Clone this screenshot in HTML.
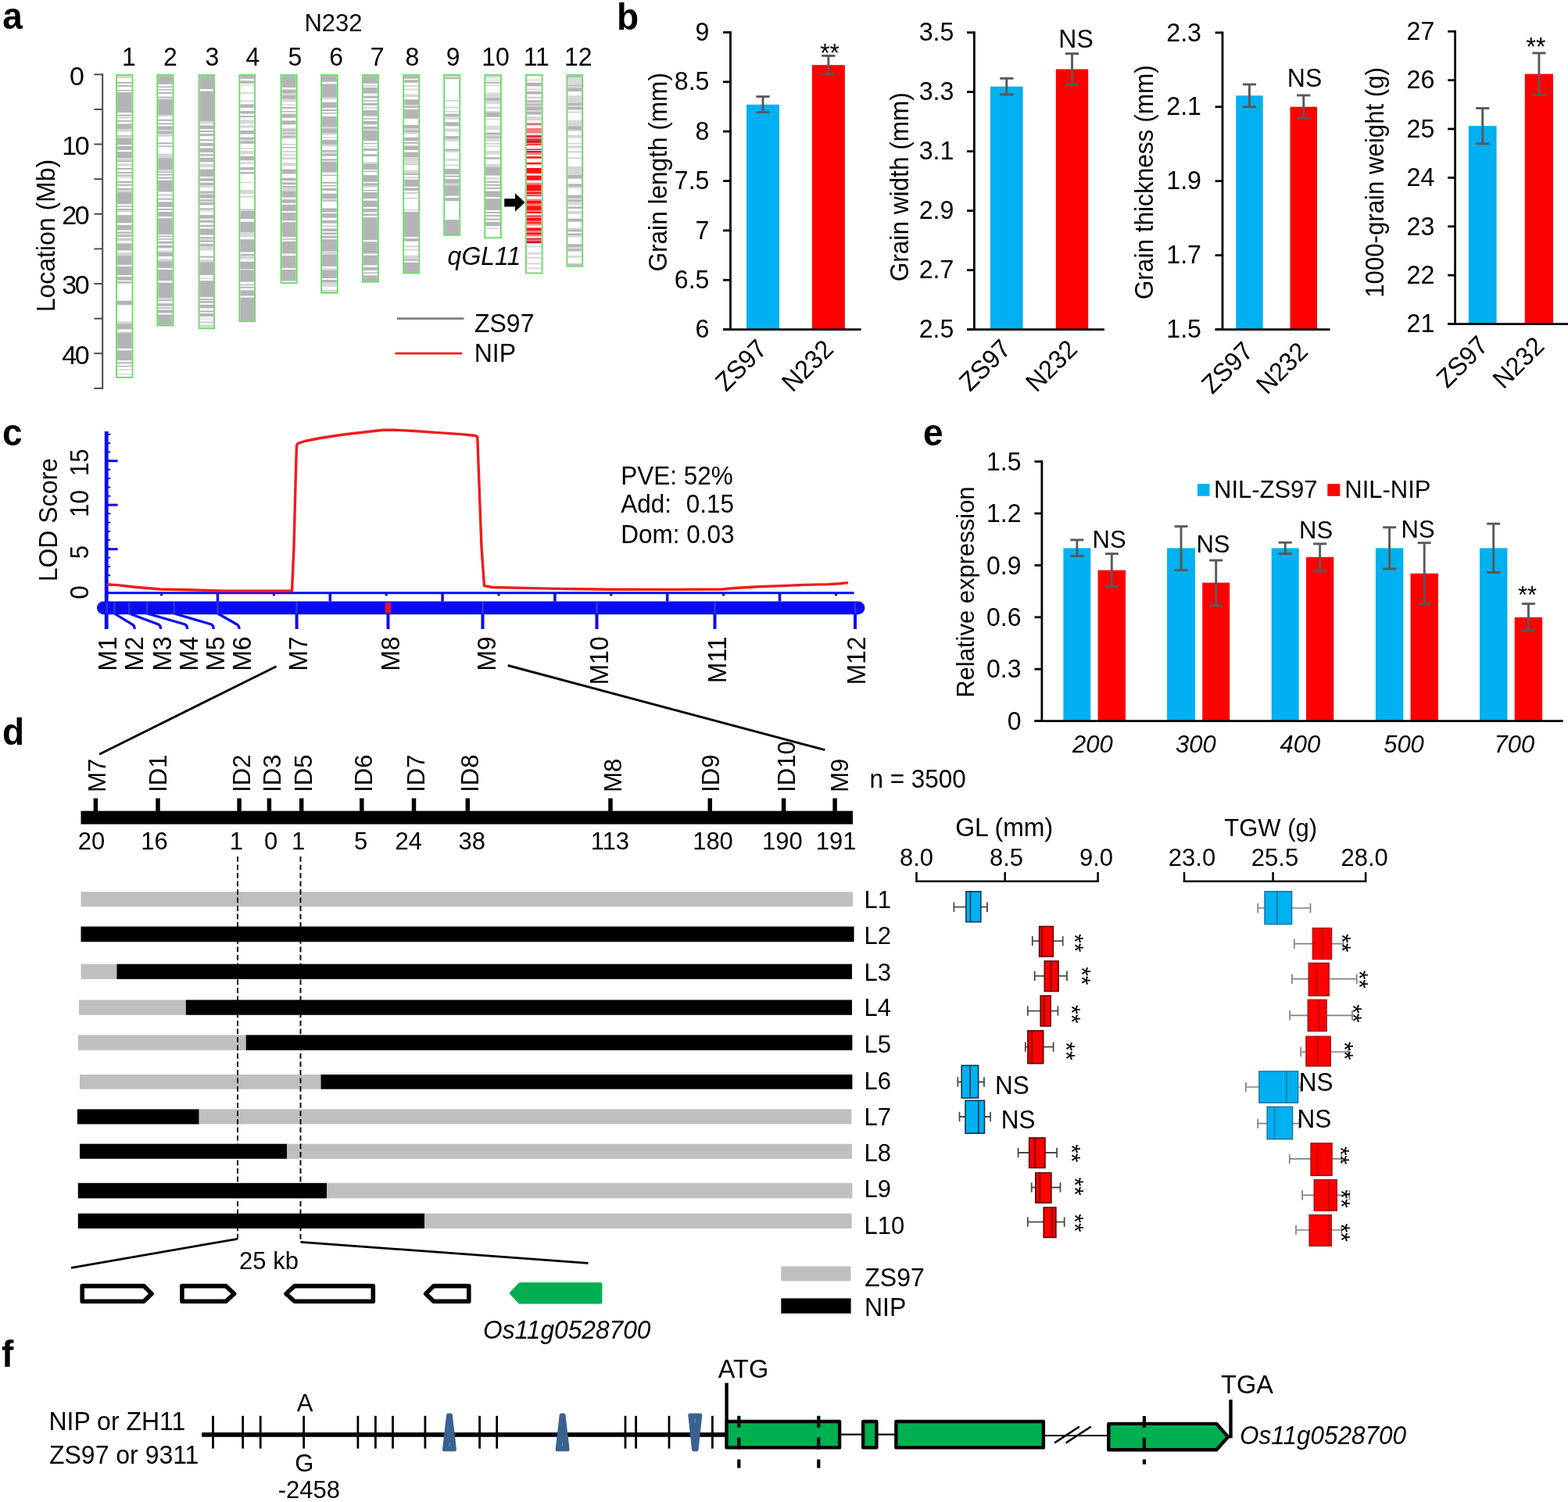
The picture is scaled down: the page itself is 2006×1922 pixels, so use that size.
<!DOCTYPE html>
<html lang="en">
<head>
<meta charset="utf-8">
<title>qGL11 figure</title>
<style>
html,body{margin:0;padding:0;background:#fff;}
body{width:2006px;height:1922px;overflow:hidden;}
svg{display:block;font-family:"Liberation Sans",sans-serif;}
</style>
</head>
<body>
<svg width="2006" height="1922" viewBox="0 0 2006 1922" role="img" aria-label="Fine mapping of qGL11">
<rect x="0" y="0" width="2006" height="1922" fill="#fff"/>
<g id="panel-a">
<text transform="translate(3.3 36.7) scale(1 1.03)" font-size="46" font-weight="bold">a</text>
<text transform="translate(426.5 39.6) scale(1 1.04)" font-size="31" text-anchor="middle">N232</text>
<line x1="131.2" y1="94.3" x2="131.2" y2="497.92500000000007" stroke="#4a4a4a" stroke-width="2"/>
<line x1="120.4" y1="95.3" x2="131.2" y2="95.3" stroke="#4a4a4a" stroke-width="2"/>
<line x1="120.4" y1="139.925" x2="131.2" y2="139.925" stroke="#4a4a4a" stroke-width="2"/>
<line x1="120.4" y1="184.55" x2="131.2" y2="184.55" stroke="#4a4a4a" stroke-width="2"/>
<line x1="120.4" y1="229.175" x2="131.2" y2="229.175" stroke="#4a4a4a" stroke-width="2"/>
<line x1="120.4" y1="273.8" x2="131.2" y2="273.8" stroke="#4a4a4a" stroke-width="2"/>
<line x1="120.4" y1="318.425" x2="131.2" y2="318.425" stroke="#4a4a4a" stroke-width="2"/>
<line x1="120.4" y1="363.05" x2="131.2" y2="363.05" stroke="#4a4a4a" stroke-width="2"/>
<line x1="120.4" y1="407.675" x2="131.2" y2="407.675" stroke="#4a4a4a" stroke-width="2"/>
<line x1="120.4" y1="452.3" x2="131.2" y2="452.3" stroke="#4a4a4a" stroke-width="2"/>
<line x1="120.4" y1="496.92500000000007" x2="131.2" y2="496.92500000000007" stroke="#4a4a4a" stroke-width="2"/>
<text transform="translate(107.9 108.7) scale(1 1)" font-size="34" text-anchor="end">0</text>
<text transform="translate(112.2 197.95000000000002) scale(1 1)" font-size="34" text-anchor="end" letter-spacing="-2.4">10</text>
<text transform="translate(112.2 287.2) scale(1 1)" font-size="34" text-anchor="end" letter-spacing="-2.4">20</text>
<text transform="translate(112.2 376.45) scale(1 1)" font-size="34" text-anchor="end" letter-spacing="-2.4">30</text>
<text transform="translate(112.2 465.7) scale(1 1)" font-size="34" text-anchor="end" letter-spacing="-2.4">40</text>
<text transform="translate(69.5 301.6) rotate(-90) scale(1 1.04)" font-size="32" text-anchor="middle">Location (Mb)</text>
<text transform="translate(165 84.4) scale(1 1.04)" font-size="32" text-anchor="middle">1</text>
<g>
<rect x="149.9" y="97.14" width="18.6" height="3.06" fill="#d6d6d8"/>
<rect x="149.9" y="104.80" width="18.6" height="2.04" fill="#b4b4b6"/>
<rect x="149.9" y="108.88" width="18.6" height="2.04" fill="#b4b4b6"/>
<rect x="149.9" y="115.00" width="18.6" height="1.53" fill="#b4b4b6"/>
<rect x="149.9" y="118.06" width="18.6" height="26.02" fill="#b4b4b6"/>
<rect x="149.9" y="146.63" width="18.6" height="2.04" fill="#b4b4b6"/>
<rect x="149.9" y="150.20" width="18.6" height="1.02" fill="#b4b4b6"/>
<rect x="149.9" y="153.78" width="18.6" height="2.04" fill="#b4b4b6"/>
<rect x="149.9" y="158.37" width="18.6" height="7.14" fill="#b4b4b6"/>
<rect x="149.9" y="165.51" width="18.6" height="3.06" fill="#d6d6d8"/>
<rect x="149.9" y="173.16" width="18.6" height="1.53" fill="#b4b4b6"/>
<rect x="149.9" y="174.69" width="18.6" height="2.04" fill="#d6d6d8"/>
<rect x="149.9" y="176.73" width="18.6" height="8.67" fill="#b4b4b6"/>
<rect x="149.9" y="186.94" width="18.6" height="5.10" fill="#b4b4b6"/>
<rect x="149.9" y="194.08" width="18.6" height="8.16" fill="#b4b4b6"/>
<rect x="149.9" y="202.24" width="18.6" height="3.06" fill="#d6d6d8"/>
<rect x="149.9" y="205.31" width="18.6" height="2.04" fill="#b4b4b6"/>
<rect x="149.9" y="209.39" width="18.6" height="3.06" fill="#d6d6d8"/>
<rect x="149.9" y="215.00" width="18.6" height="2.04" fill="#b4b4b6"/>
<rect x="149.9" y="220.00" width="18.6" height="2.04" fill="#b4b4b6"/>
<rect x="149.9" y="223.57" width="18.6" height="1.53" fill="#b4b4b6"/>
<rect x="149.9" y="225.10" width="18.6" height="2.55" fill="#d6d6d8"/>
<rect x="149.9" y="231.73" width="18.6" height="2.55" fill="#b4b4b6"/>
<rect x="149.9" y="235.82" width="18.6" height="2.04" fill="#b4b4b6"/>
<rect x="149.9" y="240.92" width="18.6" height="2.04" fill="#b4b4b6"/>
<rect x="149.9" y="242.96" width="18.6" height="3.06" fill="#d6d6d8"/>
<rect x="149.9" y="246.02" width="18.6" height="15.31" fill="#b4b4b6"/>
<rect x="149.9" y="263.37" width="18.6" height="1.53" fill="#b4b4b6"/>
<rect x="149.9" y="266.94" width="18.6" height="2.55" fill="#b4b4b6"/>
<rect x="149.9" y="269.49" width="18.6" height="2.04" fill="#d6d6d8"/>
<rect x="149.9" y="275.10" width="18.6" height="10.20" fill="#b4b4b6"/>
<rect x="149.9" y="287.86" width="18.6" height="6.63" fill="#b4b4b6"/>
<rect x="149.9" y="296.53" width="18.6" height="2.04" fill="#b4b4b6"/>
<rect x="149.9" y="298.57" width="18.6" height="2.04" fill="#d6d6d8"/>
<rect x="149.9" y="300.61" width="18.6" height="2.55" fill="#b4b4b6"/>
<rect x="149.9" y="305.20" width="18.6" height="1.53" fill="#b4b4b6"/>
<rect x="149.9" y="306.73" width="18.6" height="2.04" fill="#d6d6d8"/>
<rect x="149.9" y="311.33" width="18.6" height="9.18" fill="#b4b4b6"/>
<rect x="149.9" y="323.06" width="18.6" height="4.08" fill="#d6d6d8"/>
<rect x="149.9" y="327.14" width="18.6" height="11.73" fill="#b4b4b6"/>
<rect x="149.9" y="340.92" width="18.6" height="9.08" fill="#b4b4b6"/>
<rect x="149.9" y="350.00" width="18.6" height="2.04" fill="#b4b4b6"/>
<rect x="149.9" y="354.08" width="18.6" height="4.59" fill="#b4b4b6"/>
<rect x="149.9" y="360.20" width="18.6" height="2.55" fill="#b4b4b6"/>
<rect x="149.9" y="384.69" width="18.6" height="5.61" fill="#b4b4b6"/>
<rect x="149.9" y="411.22" width="18.6" height="3.06" fill="#d6d6d8"/>
<rect x="149.9" y="414.29" width="18.6" height="7.14" fill="#b4b4b6"/>
<rect x="149.9" y="424.49" width="18.6" height="1.53" fill="#d6d6d8"/>
<rect x="149.9" y="426.02" width="18.6" height="19.90" fill="#b4b4b6"/>
<rect x="149.9" y="448.47" width="18.6" height="12.76" fill="#b4b4b6"/>
<rect x="149.9" y="463.27" width="18.6" height="2.04" fill="#b4b4b6"/>
<rect x="149.9" y="467.86" width="18.6" height="1.53" fill="#b4b4b6"/>
<rect x="149.9" y="472.45" width="18.6" height="1.53" fill="#d6d6d8"/>
<rect x="149.9" y="478.06" width="18.6" height="1.33" fill="#d6d6d8"/>
<rect x="148.9" y="96.0" width="20.6" height="387.0" fill="none" stroke="#62dc62" stroke-width="1.8"/>
</g>
<text transform="translate(218 84.4) scale(1 1.04)" font-size="32" text-anchor="middle">2</text>
<g>
<rect x="202.3" y="97.14" width="18.2" height="10.71" fill="#b4b4b6"/>
<rect x="202.3" y="110.41" width="18.2" height="1.53" fill="#b4b4b6"/>
<rect x="202.3" y="113.98" width="18.2" height="1.53" fill="#b4b4b6"/>
<rect x="202.3" y="118.06" width="18.2" height="2.04" fill="#b4b4b6"/>
<rect x="202.3" y="123.67" width="18.2" height="1.53" fill="#b4b4b6"/>
<rect x="202.3" y="125.20" width="18.2" height="2.04" fill="#d6d6d8"/>
<rect x="202.3" y="127.24" width="18.2" height="19.90" fill="#b4b4b6"/>
<rect x="202.3" y="147.14" width="18.2" height="2.04" fill="#d6d6d8"/>
<rect x="202.3" y="152.76" width="18.2" height="2.04" fill="#b4b4b6"/>
<rect x="202.3" y="157.35" width="18.2" height="2.04" fill="#b4b4b6"/>
<rect x="202.3" y="161.43" width="18.2" height="4.59" fill="#b4b4b6"/>
<rect x="202.3" y="166.02" width="18.2" height="2.04" fill="#d6d6d8"/>
<rect x="202.3" y="168.06" width="18.2" height="3.57" fill="#b4b4b6"/>
<rect x="202.3" y="171.63" width="18.2" height="3.06" fill="#d6d6d8"/>
<rect x="202.3" y="182.35" width="18.2" height="2.04" fill="#b4b4b6"/>
<rect x="202.3" y="186.43" width="18.2" height="1.53" fill="#b4b4b6"/>
<rect x="202.3" y="196.63" width="18.2" height="5.61" fill="#d6d6d8"/>
<rect x="202.3" y="202.24" width="18.2" height="14.80" fill="#b4b4b6"/>
<rect x="202.3" y="217.04" width="18.2" height="2.96" fill="#d6d6d8"/>
<rect x="202.3" y="220.00" width="18.2" height="1.02" fill="#b4b4b6"/>
<rect x="202.3" y="222.55" width="18.2" height="2.04" fill="#b4b4b6"/>
<rect x="202.3" y="226.63" width="18.2" height="2.04" fill="#b4b4b6"/>
<rect x="202.3" y="230.71" width="18.2" height="14.80" fill="#b4b4b6"/>
<rect x="202.3" y="248.06" width="18.2" height="3.06" fill="#d6d6d8"/>
<rect x="202.3" y="253.67" width="18.2" height="2.04" fill="#b4b4b6"/>
<rect x="202.3" y="258.27" width="18.2" height="6.63" fill="#b4b4b6"/>
<rect x="202.3" y="266.94" width="18.2" height="2.04" fill="#b4b4b6"/>
<rect x="202.3" y="271.02" width="18.2" height="6.12" fill="#b4b4b6"/>
<rect x="202.3" y="279.18" width="18.2" height="20.92" fill="#b4b4b6"/>
<rect x="202.3" y="301.63" width="18.2" height="1.53" fill="#b4b4b6"/>
<rect x="202.3" y="305.20" width="18.2" height="1.53" fill="#b4b4b6"/>
<rect x="202.3" y="308.78" width="18.2" height="3.06" fill="#b4b4b6"/>
<rect x="202.3" y="313.88" width="18.2" height="3.57" fill="#b4b4b6"/>
<rect x="202.3" y="320.51" width="18.2" height="2.55" fill="#d6d6d8"/>
<rect x="202.3" y="323.06" width="18.2" height="5.10" fill="#b4b4b6"/>
<rect x="202.3" y="331.22" width="18.2" height="3.06" fill="#d6d6d8"/>
<rect x="202.3" y="334.29" width="18.2" height="8.67" fill="#b4b4b6"/>
<rect x="202.3" y="345.00" width="18.2" height="5.00" fill="#b4b4b6"/>
<rect x="202.3" y="350.00" width="18.2" height="9.18" fill="#b4b4b6"/>
<rect x="202.3" y="361.73" width="18.2" height="19.39" fill="#b4b4b6"/>
<rect x="202.3" y="381.12" width="18.2" height="2.55" fill="#d6d6d8"/>
<rect x="202.3" y="383.67" width="18.2" height="1.53" fill="#b4b4b6"/>
<rect x="202.3" y="388.27" width="18.2" height="3.57" fill="#b4b4b6"/>
<rect x="202.3" y="393.37" width="18.2" height="1.53" fill="#b4b4b6"/>
<rect x="202.3" y="396.43" width="18.2" height="4.08" fill="#b4b4b6"/>
<rect x="202.3" y="402.55" width="18.2" height="13.27" fill="#b4b4b6"/>
<rect x="201.3" y="96.0" width="20.2" height="320.6" fill="none" stroke="#62dc62" stroke-width="1.8"/>
</g>
<text transform="translate(271.4 84.4) scale(1 1.04)" font-size="32" text-anchor="middle">3</text>
<g>
<rect x="255.6" y="97.14" width="17.4" height="16.84" fill="#b4b4b6"/>
<rect x="255.6" y="116.53" width="17.4" height="38.78" fill="#b4b4b6"/>
<rect x="255.6" y="155.31" width="17.4" height="3.06" fill="#d6d6d8"/>
<rect x="255.6" y="160.41" width="17.4" height="4.59" fill="#b4b4b6"/>
<rect x="255.6" y="167.04" width="17.4" height="2.04" fill="#b4b4b6"/>
<rect x="255.6" y="171.12" width="17.4" height="3.06" fill="#b4b4b6"/>
<rect x="255.6" y="178.27" width="17.4" height="2.04" fill="#b4b4b6"/>
<rect x="255.6" y="182.86" width="17.4" height="4.08" fill="#b4b4b6"/>
<rect x="255.6" y="189.49" width="17.4" height="5.61" fill="#b4b4b6"/>
<rect x="255.6" y="197.14" width="17.4" height="2.55" fill="#b4b4b6"/>
<rect x="255.6" y="201.73" width="17.4" height="5.61" fill="#b4b4b6"/>
<rect x="255.6" y="209.90" width="17.4" height="4.08" fill="#d6d6d8"/>
<rect x="255.6" y="216.53" width="17.4" height="3.47" fill="#b4b4b6"/>
<rect x="255.6" y="220.00" width="17.4" height="6.12" fill="#b4b4b6"/>
<rect x="255.6" y="228.16" width="17.4" height="3.57" fill="#b4b4b6"/>
<rect x="255.6" y="233.78" width="17.4" height="3.57" fill="#b4b4b6"/>
<rect x="255.6" y="237.35" width="17.4" height="2.55" fill="#d6d6d8"/>
<rect x="255.6" y="244.49" width="17.4" height="2.55" fill="#b4b4b6"/>
<rect x="255.6" y="247.04" width="17.4" height="2.04" fill="#d6d6d8"/>
<rect x="255.6" y="249.08" width="17.4" height="4.59" fill="#b4b4b6"/>
<rect x="255.6" y="255.20" width="17.4" height="2.04" fill="#b4b4b6"/>
<rect x="255.6" y="257.24" width="17.4" height="2.04" fill="#d6d6d8"/>
<rect x="255.6" y="259.29" width="17.4" height="3.06" fill="#b4b4b6"/>
<rect x="255.6" y="266.43" width="17.4" height="2.04" fill="#b4b4b6"/>
<rect x="255.6" y="268.47" width="17.4" height="2.04" fill="#d6d6d8"/>
<rect x="255.6" y="275.10" width="17.4" height="4.59" fill="#b4b4b6"/>
<rect x="255.6" y="281.73" width="17.4" height="3.06" fill="#b4b4b6"/>
<rect x="255.6" y="287.86" width="17.4" height="2.55" fill="#b4b4b6"/>
<rect x="255.6" y="292.45" width="17.4" height="8.16" fill="#b4b4b6"/>
<rect x="255.6" y="303.16" width="17.4" height="2.04" fill="#b4b4b6"/>
<rect x="255.6" y="305.20" width="17.4" height="2.55" fill="#d6d6d8"/>
<rect x="255.6" y="307.76" width="17.4" height="2.04" fill="#b4b4b6"/>
<rect x="255.6" y="311.84" width="17.4" height="3.57" fill="#b4b4b6"/>
<rect x="255.6" y="315.41" width="17.4" height="2.55" fill="#d6d6d8"/>
<rect x="255.6" y="317.96" width="17.4" height="2.55" fill="#d6d6d8"/>
<rect x="255.6" y="327.65" width="17.4" height="2.04" fill="#b4b4b6"/>
<rect x="255.6" y="332.24" width="17.4" height="3.06" fill="#d6d6d8"/>
<rect x="255.6" y="335.31" width="17.4" height="14.69" fill="#b4b4b6"/>
<rect x="255.6" y="350.00" width="17.4" height="2.04" fill="#b4b4b6"/>
<rect x="255.6" y="355.61" width="17.4" height="1.53" fill="#d6d6d8"/>
<rect x="255.6" y="359.18" width="17.4" height="20.92" fill="#b4b4b6"/>
<rect x="255.6" y="382.14" width="17.4" height="2.04" fill="#b4b4b6"/>
<rect x="255.6" y="385.20" width="17.4" height="2.55" fill="#b4b4b6"/>
<rect x="255.6" y="389.80" width="17.4" height="4.59" fill="#b4b4b6"/>
<rect x="255.6" y="397.45" width="17.4" height="2.04" fill="#b4b4b6"/>
<rect x="255.6" y="401.02" width="17.4" height="4.08" fill="#b4b4b6"/>
<rect x="255.6" y="407.65" width="17.4" height="1.02" fill="#d6d6d8"/>
<rect x="255.6" y="411.22" width="17.4" height="2.55" fill="#d6d6d8"/>
<rect x="255.6" y="415.31" width="17.4" height="3.57" fill="#d6d6d8"/>
<rect x="254.6" y="96.0" width="19.4" height="324.3" fill="none" stroke="#62dc62" stroke-width="1.8"/>
</g>
<text transform="translate(323.5 84.4) scale(1 1.04)" font-size="32" text-anchor="middle">4</text>
<g>
<rect x="307.4" y="97.14" width="17.7" height="3.57" fill="#b4b4b6"/>
<rect x="307.4" y="103.27" width="17.7" height="3.57" fill="#b4b4b6"/>
<rect x="307.4" y="108.88" width="17.7" height="1.02" fill="#d6d6d8"/>
<rect x="307.4" y="118.06" width="17.7" height="2.04" fill="#d6d6d8"/>
<rect x="307.4" y="128.27" width="17.7" height="2.04" fill="#d6d6d8"/>
<rect x="307.4" y="133.37" width="17.7" height="4.59" fill="#b4b4b6"/>
<rect x="307.4" y="142.04" width="17.7" height="3.57" fill="#b4b4b6"/>
<rect x="307.4" y="148.16" width="17.7" height="2.04" fill="#b4b4b6"/>
<rect x="307.4" y="153.27" width="17.7" height="2.04" fill="#d6d6d8"/>
<rect x="307.4" y="155.31" width="17.7" height="3.06" fill="#d6d6d8"/>
<rect x="307.4" y="160.41" width="17.7" height="3.06" fill="#d6d6d8"/>
<rect x="307.4" y="167.04" width="17.7" height="4.59" fill="#b4b4b6"/>
<rect x="307.4" y="175.71" width="17.7" height="3.06" fill="#b4b4b6"/>
<rect x="307.4" y="178.78" width="17.7" height="2.04" fill="#d6d6d8"/>
<rect x="307.4" y="180.82" width="17.7" height="3.06" fill="#b4b4b6"/>
<rect x="307.4" y="189.49" width="17.7" height="1.53" fill="#d6d6d8"/>
<rect x="307.4" y="193.06" width="17.7" height="4.08" fill="#d6d6d8"/>
<rect x="307.4" y="199.69" width="17.7" height="5.61" fill="#b4b4b6"/>
<rect x="307.4" y="207.35" width="17.7" height="2.55" fill="#d6d6d8"/>
<rect x="307.4" y="213.98" width="17.7" height="3.57" fill="#b4b4b6"/>
<rect x="307.4" y="220.00" width="17.7" height="2.55" fill="#b4b4b6"/>
<rect x="307.4" y="232.76" width="17.7" height="1.53" fill="#d6d6d8"/>
<rect x="307.4" y="242.96" width="17.7" height="5.10" fill="#d6d6d8"/>
<rect x="307.4" y="250.61" width="17.7" height="2.04" fill="#d6d6d8"/>
<rect x="307.4" y="266.94" width="17.7" height="3.06" fill="#d6d6d8"/>
<rect x="307.4" y="270.00" width="17.7" height="10.20" fill="#b4b4b6"/>
<rect x="307.4" y="283.78" width="17.7" height="13.27" fill="#b4b4b6"/>
<rect x="307.4" y="297.04" width="17.7" height="3.06" fill="#d6d6d8"/>
<rect x="307.4" y="300.10" width="17.7" height="3.06" fill="#d6d6d8"/>
<rect x="307.4" y="306.22" width="17.7" height="16.33" fill="#b4b4b6"/>
<rect x="307.4" y="325.10" width="17.7" height="2.04" fill="#b4b4b6"/>
<rect x="307.4" y="327.14" width="17.7" height="4.59" fill="#d6d6d8"/>
<rect x="307.4" y="334.80" width="17.7" height="9.18" fill="#b4b4b6"/>
<rect x="307.4" y="343.98" width="17.7" height="2.04" fill="#d6d6d8"/>
<rect x="307.4" y="346.02" width="17.7" height="3.98" fill="#b4b4b6"/>
<rect x="307.4" y="350.00" width="17.7" height="10.71" fill="#b4b4b6"/>
<rect x="307.4" y="363.78" width="17.7" height="1.53" fill="#b4b4b6"/>
<rect x="307.4" y="366.84" width="17.7" height="2.04" fill="#b4b4b6"/>
<rect x="307.4" y="371.43" width="17.7" height="7.14" fill="#b4b4b6"/>
<rect x="307.4" y="380.61" width="17.7" height="29.59" fill="#b4b4b6"/>
<rect x="306.4" y="96.0" width="19.7" height="315.1" fill="none" stroke="#62dc62" stroke-width="1.8"/>
</g>
<text transform="translate(377.5 84.4) scale(1 1.04)" font-size="32" text-anchor="middle">5</text>
<g>
<rect x="360.5" y="97.14" width="18.2" height="14.80" fill="#b4b4b6"/>
<rect x="360.5" y="114.49" width="18.2" height="5.10" fill="#b4b4b6"/>
<rect x="360.5" y="119.59" width="18.2" height="2.04" fill="#d6d6d8"/>
<rect x="360.5" y="121.63" width="18.2" height="5.10" fill="#b4b4b6"/>
<rect x="360.5" y="126.73" width="18.2" height="3.57" fill="#d6d6d8"/>
<rect x="360.5" y="133.37" width="18.2" height="1.53" fill="#d6d6d8"/>
<rect x="360.5" y="136.94" width="18.2" height="2.04" fill="#b4b4b6"/>
<rect x="360.5" y="142.04" width="18.2" height="1.53" fill="#b4b4b6"/>
<rect x="360.5" y="145.61" width="18.2" height="5.10" fill="#b4b4b6"/>
<rect x="360.5" y="154.29" width="18.2" height="5.10" fill="#b4b4b6"/>
<rect x="360.5" y="163.47" width="18.2" height="2.04" fill="#d6d6d8"/>
<rect x="360.5" y="165.51" width="18.2" height="2.04" fill="#b4b4b6"/>
<rect x="360.5" y="167.55" width="18.2" height="2.04" fill="#d6d6d8"/>
<rect x="360.5" y="169.59" width="18.2" height="2.04" fill="#b4b4b6"/>
<rect x="360.5" y="171.63" width="18.2" height="2.04" fill="#d6d6d8"/>
<rect x="360.5" y="173.67" width="18.2" height="2.55" fill="#b4b4b6"/>
<rect x="360.5" y="176.22" width="18.2" height="1.53" fill="#d6d6d8"/>
<rect x="360.5" y="183.88" width="18.2" height="2.04" fill="#d6d6d8"/>
<rect x="360.5" y="187.96" width="18.2" height="1.53" fill="#b4b4b6"/>
<rect x="360.5" y="193.06" width="18.2" height="2.04" fill="#d6d6d8"/>
<rect x="360.5" y="197.14" width="18.2" height="2.04" fill="#d6d6d8"/>
<rect x="360.5" y="201.22" width="18.2" height="3.06" fill="#d6d6d8"/>
<rect x="360.5" y="208.37" width="18.2" height="4.08" fill="#d6d6d8"/>
<rect x="360.5" y="216.53" width="18.2" height="3.47" fill="#b4b4b6"/>
<rect x="360.5" y="220.00" width="18.2" height="2.55" fill="#b4b4b6"/>
<rect x="360.5" y="227.65" width="18.2" height="3.57" fill="#b4b4b6"/>
<rect x="360.5" y="233.27" width="18.2" height="3.06" fill="#b4b4b6"/>
<rect x="360.5" y="237.86" width="18.2" height="2.04" fill="#b4b4b6"/>
<rect x="360.5" y="239.90" width="18.2" height="4.59" fill="#d6d6d8"/>
<rect x="360.5" y="244.49" width="18.2" height="8.16" fill="#b4b4b6"/>
<rect x="360.5" y="255.20" width="18.2" height="4.59" fill="#b4b4b6"/>
<rect x="360.5" y="261.84" width="18.2" height="8.16" fill="#b4b4b6"/>
<rect x="360.5" y="272.04" width="18.2" height="10.20" fill="#b4b4b6"/>
<rect x="360.5" y="284.29" width="18.2" height="18.88" fill="#b4b4b6"/>
<rect x="360.5" y="305.20" width="18.2" height="1.53" fill="#b4b4b6"/>
<rect x="360.5" y="308.78" width="18.2" height="15.82" fill="#b4b4b6"/>
<rect x="360.5" y="327.14" width="18.2" height="15.82" fill="#b4b4b6"/>
<rect x="360.5" y="345.00" width="18.2" height="5.00" fill="#b4b4b6"/>
<rect x="360.5" y="350.00" width="18.2" height="9.59" fill="#b4b4b6"/>
<rect x="359.5" y="96.0" width="20.2" height="266.1" fill="none" stroke="#62dc62" stroke-width="1.8"/>
</g>
<text transform="translate(430.2 84.4) scale(1 1.04)" font-size="32" text-anchor="middle">6</text>
<g>
<rect x="412.1" y="97.14" width="18.7" height="7.65" fill="#b4b4b6"/>
<rect x="412.1" y="107.35" width="18.7" height="17.35" fill="#b4b4b6"/>
<rect x="412.1" y="124.69" width="18.7" height="2.55" fill="#d6d6d8"/>
<rect x="412.1" y="130.82" width="18.7" height="7.14" fill="#b4b4b6"/>
<rect x="412.1" y="140.00" width="18.7" height="2.04" fill="#b4b4b6"/>
<rect x="412.1" y="144.08" width="18.7" height="1.53" fill="#b4b4b6"/>
<rect x="412.1" y="148.67" width="18.7" height="13.78" fill="#b4b4b6"/>
<rect x="412.1" y="162.45" width="18.7" height="2.04" fill="#d6d6d8"/>
<rect x="412.1" y="164.49" width="18.7" height="6.12" fill="#b4b4b6"/>
<rect x="412.1" y="170.61" width="18.7" height="2.04" fill="#d6d6d8"/>
<rect x="412.1" y="175.20" width="18.7" height="1.53" fill="#d6d6d8"/>
<rect x="412.1" y="178.78" width="18.7" height="6.63" fill="#b4b4b6"/>
<rect x="412.1" y="185.41" width="18.7" height="2.04" fill="#d6d6d8"/>
<rect x="412.1" y="192.04" width="18.7" height="2.55" fill="#b4b4b6"/>
<rect x="412.1" y="194.59" width="18.7" height="2.04" fill="#d6d6d8"/>
<rect x="412.1" y="196.63" width="18.7" height="3.06" fill="#b4b4b6"/>
<rect x="412.1" y="203.27" width="18.7" height="2.04" fill="#b4b4b6"/>
<rect x="412.1" y="205.31" width="18.7" height="2.04" fill="#d6d6d8"/>
<rect x="412.1" y="207.35" width="18.7" height="12.65" fill="#b4b4b6"/>
<rect x="412.1" y="220.00" width="18.7" height="1.53" fill="#d6d6d8"/>
<rect x="412.1" y="223.57" width="18.7" height="1.53" fill="#b4b4b6"/>
<rect x="412.1" y="232.76" width="18.7" height="2.04" fill="#b4b4b6"/>
<rect x="412.1" y="236.84" width="18.7" height="1.53" fill="#b4b4b6"/>
<rect x="412.1" y="240.92" width="18.7" height="3.06" fill="#b4b4b6"/>
<rect x="412.1" y="247.55" width="18.7" height="6.63" fill="#b4b4b6"/>
<rect x="412.1" y="254.18" width="18.7" height="2.04" fill="#d6d6d8"/>
<rect x="412.1" y="256.22" width="18.7" height="1.53" fill="#b4b4b6"/>
<rect x="412.1" y="266.43" width="18.7" height="5.10" fill="#b4b4b6"/>
<rect x="412.1" y="273.06" width="18.7" height="5.61" fill="#b4b4b6"/>
<rect x="412.1" y="281.73" width="18.7" height="4.08" fill="#b4b4b6"/>
<rect x="412.1" y="288.37" width="18.7" height="2.04" fill="#d6d6d8"/>
<rect x="412.1" y="292.45" width="18.7" height="3.57" fill="#b4b4b6"/>
<rect x="412.1" y="297.55" width="18.7" height="2.55" fill="#b4b4b6"/>
<rect x="412.1" y="301.63" width="18.7" height="3.06" fill="#b4b4b6"/>
<rect x="412.1" y="306.22" width="18.7" height="14.80" fill="#b4b4b6"/>
<rect x="412.1" y="321.02" width="18.7" height="4.59" fill="#d6d6d8"/>
<rect x="412.1" y="325.61" width="18.7" height="15.31" fill="#b4b4b6"/>
<rect x="412.1" y="343.47" width="18.7" height="2.04" fill="#d6d6d8"/>
<rect x="412.1" y="345.51" width="18.7" height="4.49" fill="#b4b4b6"/>
<rect x="412.1" y="350.00" width="18.7" height="6.02" fill="#b4b4b6"/>
<rect x="412.1" y="358.06" width="18.7" height="3.57" fill="#b4b4b6"/>
<rect x="412.1" y="361.63" width="18.7" height="3.06" fill="#d6d6d8"/>
<rect x="412.1" y="364.69" width="18.7" height="2.04" fill="#d6d6d8"/>
<rect x="412.1" y="370.82" width="18.7" height="3.06" fill="#d6d6d8"/>
<rect x="411.1" y="96.0" width="20.7" height="278.8" fill="none" stroke="#62dc62" stroke-width="1.8"/>
</g>
<text transform="translate(482.7 84.4) scale(1 1.04)" font-size="32" text-anchor="middle">7</text>
<g>
<rect x="464.8" y="97.14" width="18.0" height="9.69" fill="#b4b4b6"/>
<rect x="464.8" y="108.88" width="18.0" height="2.04" fill="#d6d6d8"/>
<rect x="464.8" y="111.94" width="18.0" height="7.65" fill="#b4b4b6"/>
<rect x="464.8" y="122.65" width="18.0" height="3.06" fill="#b4b4b6"/>
<rect x="464.8" y="128.27" width="18.0" height="1.53" fill="#b4b4b6"/>
<rect x="464.8" y="131.84" width="18.0" height="3.06" fill="#b4b4b6"/>
<rect x="464.8" y="136.94" width="18.0" height="2.04" fill="#d6d6d8"/>
<rect x="464.8" y="141.02" width="18.0" height="7.65" fill="#b4b4b6"/>
<rect x="464.8" y="151.22" width="18.0" height="1.53" fill="#b4b4b6"/>
<rect x="464.8" y="154.80" width="18.0" height="4.59" fill="#b4b4b6"/>
<rect x="464.8" y="161.94" width="18.0" height="3.06" fill="#b4b4b6"/>
<rect x="464.8" y="165.00" width="18.0" height="2.04" fill="#d6d6d8"/>
<rect x="464.8" y="167.04" width="18.0" height="13.27" fill="#b4b4b6"/>
<rect x="464.8" y="182.86" width="18.0" height="1.53" fill="#b4b4b6"/>
<rect x="464.8" y="186.94" width="18.0" height="1.53" fill="#d6d6d8"/>
<rect x="464.8" y="190.00" width="18.0" height="3.06" fill="#b4b4b6"/>
<rect x="464.8" y="197.14" width="18.0" height="3.06" fill="#b4b4b6"/>
<rect x="464.8" y="207.35" width="18.0" height="2.04" fill="#d6d6d8"/>
<rect x="464.8" y="209.39" width="18.0" height="7.65" fill="#b4b4b6"/>
<rect x="464.8" y="218.57" width="18.0" height="1.43" fill="#b4b4b6"/>
<rect x="464.8" y="224.08" width="18.0" height="8.67" fill="#b4b4b6"/>
<rect x="464.8" y="234.29" width="18.0" height="3.57" fill="#b4b4b6"/>
<rect x="464.8" y="237.86" width="18.0" height="2.04" fill="#d6d6d8"/>
<rect x="464.8" y="242.96" width="18.0" height="1.53" fill="#b4b4b6"/>
<rect x="464.8" y="246.02" width="18.0" height="8.16" fill="#b4b4b6"/>
<rect x="464.8" y="256.73" width="18.0" height="8.16" fill="#b4b4b6"/>
<rect x="464.8" y="266.94" width="18.0" height="4.59" fill="#b4b4b6"/>
<rect x="464.8" y="273.57" width="18.0" height="2.55" fill="#b4b4b6"/>
<rect x="464.8" y="278.16" width="18.0" height="29.08" fill="#b4b4b6"/>
<rect x="464.8" y="309.29" width="18.0" height="15.31" fill="#b4b4b6"/>
<rect x="464.8" y="326.63" width="18.0" height="12.76" fill="#b4b4b6"/>
<rect x="464.8" y="341.94" width="18.0" height="4.08" fill="#b4b4b6"/>
<rect x="464.8" y="348.57" width="18.0" height="1.43" fill="#b4b4b6"/>
<rect x="464.8" y="352.45" width="18.0" height="8.16" fill="#b4b4b6"/>
<rect x="463.8" y="96.0" width="20.0" height="264.7" fill="none" stroke="#62dc62" stroke-width="1.8"/>
</g>
<text transform="translate(527.5 84.4) scale(1 1.04)" font-size="32" text-anchor="middle">8</text>
<g>
<rect x="517.2" y="97.14" width="18.0" height="3.57" fill="#b4b4b6"/>
<rect x="517.2" y="102.24" width="18.0" height="3.57" fill="#b4b4b6"/>
<rect x="517.2" y="108.88" width="18.0" height="2.04" fill="#d6d6d8"/>
<rect x="517.2" y="113.47" width="18.0" height="2.04" fill="#d6d6d8"/>
<rect x="517.2" y="120.61" width="18.0" height="3.57" fill="#d6d6d8"/>
<rect x="517.2" y="127.24" width="18.0" height="7.14" fill="#b4b4b6"/>
<rect x="517.2" y="134.39" width="18.0" height="1.53" fill="#d6d6d8"/>
<rect x="517.2" y="135.92" width="18.0" height="2.04" fill="#b4b4b6"/>
<rect x="517.2" y="140.00" width="18.0" height="11.73" fill="#b4b4b6"/>
<rect x="517.2" y="159.90" width="18.0" height="4.59" fill="#b4b4b6"/>
<rect x="517.2" y="164.49" width="18.0" height="2.04" fill="#d6d6d8"/>
<rect x="517.2" y="166.53" width="18.0" height="2.55" fill="#b4b4b6"/>
<rect x="517.2" y="169.08" width="18.0" height="2.55" fill="#d6d6d8"/>
<rect x="517.2" y="175.71" width="18.0" height="4.59" fill="#b4b4b6"/>
<rect x="517.2" y="181.84" width="18.0" height="2.04" fill="#b4b4b6"/>
<rect x="517.2" y="186.43" width="18.0" height="5.61" fill="#b4b4b6"/>
<rect x="517.2" y="194.59" width="18.0" height="6.63" fill="#b4b4b6"/>
<rect x="517.2" y="201.22" width="18.0" height="5.10" fill="#d6d6d8"/>
<rect x="517.2" y="206.33" width="18.0" height="2.04" fill="#d6d6d8"/>
<rect x="517.2" y="208.37" width="18.0" height="3.06" fill="#d6d6d8"/>
<rect x="517.2" y="217.55" width="18.0" height="2.45" fill="#d6d6d8"/>
<rect x="517.2" y="220.00" width="18.0" height="2.04" fill="#d6d6d8"/>
<rect x="517.2" y="222.04" width="18.0" height="2.04" fill="#b4b4b6"/>
<rect x="517.2" y="226.12" width="18.0" height="2.04" fill="#d6d6d8"/>
<rect x="517.2" y="229.69" width="18.0" height="9.18" fill="#b4b4b6"/>
<rect x="517.2" y="240.41" width="18.0" height="3.57" fill="#b4b4b6"/>
<rect x="517.2" y="245.51" width="18.0" height="3.06" fill="#d6d6d8"/>
<rect x="517.2" y="252.65" width="18.0" height="2.04" fill="#d6d6d8"/>
<rect x="517.2" y="267.45" width="18.0" height="2.04" fill="#d6d6d8"/>
<rect x="517.2" y="271.02" width="18.0" height="32.14" fill="#b4b4b6"/>
<rect x="517.2" y="305.20" width="18.0" height="3.57" fill="#b4b4b6"/>
<rect x="517.2" y="314.39" width="18.0" height="2.04" fill="#d6d6d8"/>
<rect x="517.2" y="318.47" width="18.0" height="2.04" fill="#d6d6d8"/>
<rect x="517.2" y="326.63" width="18.0" height="5.10" fill="#d6d6d8"/>
<rect x="517.2" y="331.73" width="18.0" height="2.04" fill="#b4b4b6"/>
<rect x="517.2" y="335.82" width="18.0" height="12.96" fill="#b4b4b6"/>
<rect x="516.2" y="96.0" width="20.0" height="253.5" fill="none" stroke="#62dc62" stroke-width="1.8"/>
</g>
<text transform="translate(579.6 84.4) scale(1 1.04)" font-size="32" text-anchor="middle">9</text>
<g>
<rect x="569.2" y="97.14" width="18.1" height="2.04" fill="#d6d6d8"/>
<rect x="569.2" y="99.18" width="18.1" height="2.04" fill="#b4b4b6"/>
<rect x="569.2" y="127.76" width="18.1" height="2.04" fill="#d6d6d8"/>
<rect x="569.2" y="136.43" width="18.1" height="2.04" fill="#d6d6d8"/>
<rect x="569.2" y="142.04" width="18.1" height="1.53" fill="#d6d6d8"/>
<rect x="569.2" y="145.61" width="18.1" height="3.57" fill="#b4b4b6"/>
<rect x="569.2" y="149.18" width="18.1" height="2.04" fill="#d6d6d8"/>
<rect x="569.2" y="151.22" width="18.1" height="1.53" fill="#d6d6d8"/>
<rect x="569.2" y="156.33" width="18.1" height="5.10" fill="#b4b4b6"/>
<rect x="569.2" y="164.49" width="18.1" height="4.08" fill="#d6d6d8"/>
<rect x="569.2" y="174.18" width="18.1" height="3.57" fill="#b4b4b6"/>
<rect x="569.2" y="177.76" width="18.1" height="3.06" fill="#d6d6d8"/>
<rect x="569.2" y="190.51" width="18.1" height="2.55" fill="#b4b4b6"/>
<rect x="569.2" y="193.06" width="18.1" height="2.04" fill="#d6d6d8"/>
<rect x="569.2" y="203.27" width="18.1" height="2.55" fill="#d6d6d8"/>
<rect x="569.2" y="210.41" width="18.1" height="2.04" fill="#d6d6d8"/>
<rect x="569.2" y="216.02" width="18.1" height="3.98" fill="#b4b4b6"/>
<rect x="569.2" y="220.00" width="18.1" height="3.06" fill="#b4b4b6"/>
<rect x="569.2" y="224.59" width="18.1" height="2.04" fill="#b4b4b6"/>
<rect x="569.2" y="229.18" width="18.1" height="5.61" fill="#b4b4b6"/>
<rect x="569.2" y="234.80" width="18.1" height="2.55" fill="#d6d6d8"/>
<rect x="569.2" y="237.35" width="18.1" height="13.27" fill="#b4b4b6"/>
<rect x="569.2" y="253.16" width="18.1" height="4.08" fill="#b4b4b6"/>
<rect x="569.2" y="281.22" width="18.1" height="18.88" fill="#b4b4b6"/>
<rect x="568.2" y="96.0" width="20.1" height="204.9" fill="none" stroke="#62dc62" stroke-width="1.8"/>
</g>
<text transform="translate(634 84.4) scale(1 1.04)" font-size="32" text-anchor="middle">10</text>
<g>
<rect x="621.3" y="97.14" width="18.6" height="2.55" fill="#d6d6d8"/>
<rect x="621.3" y="101.73" width="18.6" height="1.53" fill="#d6d6d8"/>
<rect x="621.3" y="104.80" width="18.6" height="2.04" fill="#b4b4b6"/>
<rect x="621.3" y="108.37" width="18.6" height="1.53" fill="#d6d6d8"/>
<rect x="621.3" y="118.57" width="18.6" height="2.04" fill="#d6d6d8"/>
<rect x="621.3" y="120.61" width="18.6" height="3.06" fill="#d6d6d8"/>
<rect x="621.3" y="123.67" width="18.6" height="1.53" fill="#d6d6d8"/>
<rect x="621.3" y="125.20" width="18.6" height="3.57" fill="#b4b4b6"/>
<rect x="621.3" y="128.78" width="18.6" height="2.04" fill="#d6d6d8"/>
<rect x="621.3" y="130.82" width="18.6" height="2.04" fill="#d6d6d8"/>
<rect x="621.3" y="136.94" width="18.6" height="2.04" fill="#d6d6d8"/>
<rect x="621.3" y="142.04" width="18.6" height="1.53" fill="#d6d6d8"/>
<rect x="621.3" y="143.57" width="18.6" height="6.12" fill="#b4b4b6"/>
<rect x="621.3" y="151.73" width="18.6" height="1.53" fill="#d6d6d8"/>
<rect x="621.3" y="160.92" width="18.6" height="2.55" fill="#d6d6d8"/>
<rect x="621.3" y="163.47" width="18.6" height="2.55" fill="#d6d6d8"/>
<rect x="621.3" y="169.59" width="18.6" height="3.06" fill="#b4b4b6"/>
<rect x="621.3" y="172.65" width="18.6" height="2.04" fill="#d6d6d8"/>
<rect x="621.3" y="174.69" width="18.6" height="2.04" fill="#b4b4b6"/>
<rect x="621.3" y="176.73" width="18.6" height="2.04" fill="#d6d6d8"/>
<rect x="621.3" y="178.78" width="18.6" height="2.04" fill="#d6d6d8"/>
<rect x="621.3" y="182.86" width="18.6" height="2.04" fill="#d6d6d8"/>
<rect x="621.3" y="186.43" width="18.6" height="1.53" fill="#d6d6d8"/>
<rect x="621.3" y="193.06" width="18.6" height="2.04" fill="#d6d6d8"/>
<rect x="621.3" y="195.10" width="18.6" height="2.55" fill="#d6d6d8"/>
<rect x="621.3" y="201.22" width="18.6" height="2.55" fill="#b4b4b6"/>
<rect x="621.3" y="209.90" width="18.6" height="4.08" fill="#d6d6d8"/>
<rect x="621.3" y="213.98" width="18.6" height="6.02" fill="#b4b4b6"/>
<rect x="621.3" y="220.00" width="18.6" height="4.59" fill="#b4b4b6"/>
<rect x="621.3" y="227.14" width="18.6" height="2.55" fill="#d6d6d8"/>
<rect x="621.3" y="231.73" width="18.6" height="2.04" fill="#b4b4b6"/>
<rect x="621.3" y="235.82" width="18.6" height="2.04" fill="#b4b4b6"/>
<rect x="621.3" y="239.90" width="18.6" height="2.04" fill="#b4b4b6"/>
<rect x="621.3" y="244.49" width="18.6" height="7.65" fill="#b4b4b6"/>
<rect x="621.3" y="254.18" width="18.6" height="14.80" fill="#b4b4b6"/>
<rect x="621.3" y="271.02" width="18.6" height="2.04" fill="#b4b4b6"/>
<rect x="621.3" y="275.10" width="18.6" height="2.04" fill="#b4b4b6"/>
<rect x="621.3" y="279.69" width="18.6" height="2.04" fill="#b4b4b6"/>
<rect x="621.3" y="283.78" width="18.6" height="5.61" fill="#b4b4b6"/>
<rect x="621.3" y="291.43" width="18.6" height="1.53" fill="#d6d6d8"/>
<rect x="620.3" y="96.0" width="20.6" height="208.4" fill="none" stroke="#62dc62" stroke-width="1.8"/>
</g>
<text transform="translate(686.3 84.4) scale(1 1.04)" font-size="32" text-anchor="middle">11</text>
<g>
<rect x="673.9" y="101.73" width="18.7" height="1.53" fill="#d6d6d8"/>
<rect x="673.9" y="105.82" width="18.7" height="4.59" fill="#b4b4b6"/>
<rect x="673.9" y="113.47" width="18.7" height="1.53" fill="#d6d6d8"/>
<rect x="673.9" y="117.04" width="18.7" height="3.57" fill="#b4b4b6"/>
<rect x="673.9" y="123.67" width="18.7" height="2.55" fill="#d6d6d8"/>
<rect x="673.9" y="128.27" width="18.7" height="2.55" fill="#b4b4b6"/>
<rect x="673.9" y="130.82" width="18.7" height="2.04" fill="#d6d6d8"/>
<rect x="673.9" y="132.86" width="18.7" height="2.04" fill="#b4b4b6"/>
<rect x="673.9" y="134.90" width="18.7" height="1.53" fill="#d6d6d8"/>
<rect x="673.9" y="136.43" width="18.7" height="4.59" fill="#b4b4b6"/>
<rect x="673.9" y="141.02" width="18.7" height="2.04" fill="#d6d6d8"/>
<rect x="673.9" y="143.06" width="18.7" height="3.57" fill="#b4b4b6"/>
<rect x="673.9" y="149.18" width="18.7" height="5.10" fill="#d6d6d8"/>
<rect x="673.9" y="157.35" width="18.7" height="3.06" fill="#dc7478"/>
<rect x="673.9" y="163.98" width="18.7" height="6.63" fill="#ff7a7a"/>
<rect x="673.9" y="173.16" width="18.7" height="2.55" fill="#cc1428"/>
<rect x="673.9" y="175.71" width="18.7" height="2.04" fill="#ff7a7a"/>
<rect x="673.9" y="177.76" width="18.7" height="1.53" fill="#ff1010"/>
<rect x="673.9" y="179.29" width="18.7" height="3.57" fill="#cc1428"/>
<rect x="673.9" y="182.86" width="18.7" height="1.53" fill="#ff7a7a"/>
<rect x="673.9" y="184.39" width="18.7" height="1.53" fill="#ff1010"/>
<rect x="673.9" y="190.51" width="18.7" height="1.53" fill="#ff1010"/>
<rect x="673.9" y="193.06" width="18.7" height="2.55" fill="#cc1428"/>
<rect x="673.9" y="195.61" width="18.7" height="2.55" fill="#ff7a7a"/>
<rect x="673.9" y="200.20" width="18.7" height="2.55" fill="#ff1010"/>
<rect x="673.9" y="207.86" width="18.7" height="2.55" fill="#ff1010"/>
<rect x="673.9" y="215.00" width="18.7" height="5.00" fill="#ff1010"/>
<rect x="673.9" y="220.00" width="18.7" height="2.04" fill="#ff1010"/>
<rect x="673.9" y="224.59" width="18.7" height="6.12" fill="#ff1010"/>
<rect x="673.9" y="233.78" width="18.7" height="2.55" fill="#ff7a7a"/>
<rect x="673.9" y="236.33" width="18.7" height="7.65" fill="#ff1010"/>
<rect x="673.9" y="243.98" width="18.7" height="2.04" fill="#ff7a7a"/>
<rect x="673.9" y="246.02" width="18.7" height="2.04" fill="#ff1010"/>
<rect x="673.9" y="248.06" width="18.7" height="2.04" fill="#ff7a7a"/>
<rect x="673.9" y="250.10" width="18.7" height="1.02" fill="#ff1010"/>
<rect x="673.9" y="254.69" width="18.7" height="2.04" fill="#ff7a7a"/>
<rect x="673.9" y="256.73" width="18.7" height="4.08" fill="#ff1010"/>
<rect x="673.9" y="260.82" width="18.7" height="2.55" fill="#ff7a7a"/>
<rect x="673.9" y="263.37" width="18.7" height="5.61" fill="#ff1010"/>
<rect x="673.9" y="268.98" width="18.7" height="2.04" fill="#ff7a7a"/>
<rect x="673.9" y="271.02" width="18.7" height="2.04" fill="#ff1010"/>
<rect x="673.9" y="275.61" width="18.7" height="1.53" fill="#ff1010"/>
<rect x="673.9" y="277.14" width="18.7" height="1.53" fill="#ff7a7a"/>
<rect x="673.9" y="278.67" width="18.7" height="4.08" fill="#ff1010"/>
<rect x="673.9" y="282.76" width="18.7" height="1.53" fill="#ff7a7a"/>
<rect x="673.9" y="284.29" width="18.7" height="2.04" fill="#ff1010"/>
<rect x="673.9" y="286.33" width="18.7" height="2.04" fill="#ff7a7a"/>
<rect x="673.9" y="291.43" width="18.7" height="4.08" fill="#ff1010"/>
<rect x="673.9" y="295.51" width="18.7" height="2.04" fill="#ff7a7a"/>
<rect x="673.9" y="297.55" width="18.7" height="3.06" fill="#ff1010"/>
<rect x="673.9" y="300.61" width="18.7" height="2.04" fill="#ff7a7a"/>
<rect x="673.9" y="304.69" width="18.7" height="2.04" fill="#cc1428"/>
<rect x="673.9" y="306.73" width="18.7" height="1.53" fill="#ff7a7a"/>
<rect x="673.9" y="308.27" width="18.7" height="3.06" fill="#cc1428"/>
<rect x="673.9" y="314.39" width="18.7" height="2.04" fill="#d6d6d8"/>
<rect x="673.9" y="323.06" width="18.7" height="2.55" fill="#d6d6d8"/>
<rect x="673.9" y="328.67" width="18.7" height="2.04" fill="#d6d6d8"/>
<rect x="673.9" y="336.33" width="18.7" height="2.04" fill="#d6d6d8"/>
<rect x="673.9" y="342.45" width="18.7" height="1.53" fill="#d6d6d8"/>
<rect x="672.9" y="96.0" width="20.7" height="253.5" fill="none" stroke="#62dc62" stroke-width="1.8"/>
</g>
<text transform="translate(739.8 84.4) scale(1 1.04)" font-size="32" text-anchor="middle">12</text>
<g>
<rect x="726.4" y="97.14" width="17.7" height="2.04" fill="#b4b4b6"/>
<rect x="726.4" y="99.18" width="17.7" height="2.04" fill="#d6d6d8"/>
<rect x="726.4" y="101.22" width="17.7" height="2.04" fill="#d6d6d8"/>
<rect x="726.4" y="103.27" width="17.7" height="2.04" fill="#d6d6d8"/>
<rect x="726.4" y="105.31" width="17.7" height="1.53" fill="#d6d6d8"/>
<rect x="726.4" y="106.84" width="17.7" height="2.04" fill="#d6d6d8"/>
<rect x="726.4" y="108.88" width="17.7" height="1.53" fill="#b4b4b6"/>
<rect x="726.4" y="110.41" width="17.7" height="2.04" fill="#d6d6d8"/>
<rect x="726.4" y="112.45" width="17.7" height="4.59" fill="#b4b4b6"/>
<rect x="726.4" y="122.14" width="17.7" height="2.04" fill="#d6d6d8"/>
<rect x="726.4" y="124.18" width="17.7" height="5.61" fill="#d6d6d8"/>
<rect x="726.4" y="129.80" width="17.7" height="2.04" fill="#d6d6d8"/>
<rect x="726.4" y="131.84" width="17.7" height="3.06" fill="#b4b4b6"/>
<rect x="726.4" y="134.90" width="17.7" height="2.04" fill="#d6d6d8"/>
<rect x="726.4" y="136.94" width="17.7" height="3.57" fill="#b4b4b6"/>
<rect x="726.4" y="142.55" width="17.7" height="2.04" fill="#d6d6d8"/>
<rect x="726.4" y="153.78" width="17.7" height="3.06" fill="#d6d6d8"/>
<rect x="726.4" y="156.84" width="17.7" height="4.59" fill="#d6d6d8"/>
<rect x="726.4" y="161.43" width="17.7" height="4.59" fill="#b4b4b6"/>
<rect x="726.4" y="166.02" width="17.7" height="2.04" fill="#d6d6d8"/>
<rect x="726.4" y="172.65" width="17.7" height="4.08" fill="#d6d6d8"/>
<rect x="726.4" y="182.86" width="17.7" height="1.53" fill="#d6d6d8"/>
<rect x="726.4" y="186.43" width="17.7" height="3.06" fill="#d6d6d8"/>
<rect x="726.4" y="193.06" width="17.7" height="2.55" fill="#d6d6d8"/>
<rect x="726.4" y="201.22" width="17.7" height="2.04" fill="#d6d6d8"/>
<rect x="726.4" y="212.96" width="17.7" height="3.06" fill="#d6d6d8"/>
<rect x="726.4" y="216.02" width="17.7" height="3.98" fill="#d6d6d8"/>
<rect x="726.4" y="220.00" width="17.7" height="2.04" fill="#d6d6d8"/>
<rect x="726.4" y="222.04" width="17.7" height="2.04" fill="#d6d6d8"/>
<rect x="726.4" y="224.08" width="17.7" height="4.59" fill="#b4b4b6"/>
<rect x="726.4" y="235.31" width="17.7" height="3.57" fill="#b4b4b6"/>
<rect x="726.4" y="238.88" width="17.7" height="2.04" fill="#d6d6d8"/>
<rect x="726.4" y="249.59" width="17.7" height="4.08" fill="#b4b4b6"/>
<rect x="726.4" y="253.67" width="17.7" height="2.04" fill="#d6d6d8"/>
<rect x="726.4" y="255.71" width="17.7" height="2.55" fill="#b4b4b6"/>
<rect x="726.4" y="258.27" width="17.7" height="2.04" fill="#d6d6d8"/>
<rect x="726.4" y="260.31" width="17.7" height="2.04" fill="#d6d6d8"/>
<rect x="726.4" y="264.39" width="17.7" height="2.55" fill="#b4b4b6"/>
<rect x="726.4" y="270.00" width="17.7" height="4.08" fill="#d6d6d8"/>
<rect x="726.4" y="279.69" width="17.7" height="4.08" fill="#b4b4b6"/>
<rect x="726.4" y="291.43" width="17.7" height="2.04" fill="#d6d6d8"/>
<rect x="726.4" y="293.47" width="17.7" height="3.06" fill="#b4b4b6"/>
<rect x="726.4" y="298.57" width="17.7" height="2.55" fill="#b4b4b6"/>
<rect x="726.4" y="301.12" width="17.7" height="2.55" fill="#d6d6d8"/>
<rect x="726.4" y="312.35" width="17.7" height="4.08" fill="#b4b4b6"/>
<rect x="726.4" y="316.43" width="17.7" height="2.04" fill="#d6d6d8"/>
<rect x="726.4" y="318.47" width="17.7" height="3.06" fill="#b4b4b6"/>
<rect x="726.4" y="327.14" width="17.7" height="2.55" fill="#d6d6d8"/>
<rect x="726.4" y="337.35" width="17.7" height="2.24" fill="#b4b4b6"/>
<rect x="725.4" y="96.0" width="19.7" height="244.7" fill="none" stroke="#62dc62" stroke-width="1.8"/>
</g>
<path d="M645.2 254.2 H659 V247.3 L671.6 259 L659 270.7 V264.4 H645.2 Z" fill="#000"/>
<text transform="translate(572.6 338.6) scale(1 1.04)" font-size="32" font-style="italic">qGL11</text>
<line x1="507.8" y1="407.6" x2="593.5" y2="407.6" stroke="#7f7f7f" stroke-width="2.6"/>
<line x1="505.5" y1="452.2" x2="591.2" y2="452.2" stroke="#ff0000" stroke-width="2.6"/>
<text transform="translate(607 424.9) scale(1 1.04)" font-size="32">ZS97</text>
<text transform="translate(606.7 463) scale(1 1.04)" font-size="32">NIP</text>
</g>
<g id="panel-b">
<text transform="translate(789 37.6) scale(1 1.03)" font-size="46" font-weight="bold">b</text>
<rect x="955.00" y="133.80" width="42.00" height="287.90" fill="#00b0f0"/>
<rect x="1038.80" y="83.20" width="42.10" height="338.50" fill="#ff0000"/>
<line x1="976.0" y1="123.6" x2="976.0" y2="143.6" stroke="#595959" stroke-width="2.9"/>
<line x1="967.4" y1="123.6" x2="984.6" y2="123.6" stroke="#595959" stroke-width="2.9"/>
<line x1="967.4" y1="143.6" x2="984.6" y2="143.6" stroke="#595959" stroke-width="2.9"/>
<line x1="1059.85" y1="71.4" x2="1059.85" y2="94.9" stroke="#595959" stroke-width="2.9"/>
<line x1="1051.25" y1="71.4" x2="1068.4499999999998" y2="71.4" stroke="#595959" stroke-width="2.9"/>
<line x1="1051.25" y1="94.9" x2="1068.4499999999998" y2="94.9" stroke="#595959" stroke-width="2.9"/>
<line x1="934.5" y1="40.0" x2="934.5" y2="423.09999999999997" stroke="#000" stroke-width="2.8"/>
<line x1="925.1" y1="421.7" x2="1101.7" y2="421.7" stroke="#000" stroke-width="2.8"/>
<line x1="925.1" y1="41.4" x2="934.5" y2="41.4" stroke="#000" stroke-width="2.8"/>
<text transform="translate(907.5 52.099999999999994) scale(0.975 1)" font-size="33" text-anchor="end">9</text>
<line x1="925.1" y1="104.78333333333333" x2="934.5" y2="104.78333333333333" stroke="#000" stroke-width="2.8"/>
<text transform="translate(907.5 115.48333333333333) scale(0.975 1)" font-size="33" text-anchor="end">8.5</text>
<line x1="925.1" y1="168.16666666666666" x2="934.5" y2="168.16666666666666" stroke="#000" stroke-width="2.8"/>
<text transform="translate(907.5 178.86666666666665) scale(0.975 1)" font-size="33" text-anchor="end">8</text>
<line x1="925.1" y1="231.55" x2="934.5" y2="231.55" stroke="#000" stroke-width="2.8"/>
<text transform="translate(907.5 242.25) scale(0.975 1)" font-size="33" text-anchor="end">7.5</text>
<line x1="925.1" y1="294.93333333333334" x2="934.5" y2="294.93333333333334" stroke="#000" stroke-width="2.8"/>
<text transform="translate(907.5 305.6333333333333) scale(0.975 1)" font-size="33" text-anchor="end">7</text>
<line x1="925.1" y1="358.31666666666666" x2="934.5" y2="358.31666666666666" stroke="#000" stroke-width="2.8"/>
<text transform="translate(907.5 369.01666666666665) scale(0.975 1)" font-size="33" text-anchor="end">6.5</text>
<line x1="925.1" y1="421.7" x2="934.5" y2="421.7" stroke="#000" stroke-width="2.8"/>
<text transform="translate(907.5 432.4) scale(0.975 1)" font-size="33" text-anchor="end">6</text>
<text transform="translate(853.4 220.3) rotate(-90) scale(1 1.04)" font-size="31.6" text-anchor="middle">Grain length (mm)</text>
<text transform="translate(983 448.3) rotate(-45) scale(1 1.04)" font-size="32" text-anchor="end">ZS97</text>
<text transform="translate(1068 449) rotate(-45) scale(1 1.04)" font-size="32" text-anchor="end">N232</text>
<text transform="translate(1061.6 78.5) scale(1 1.04)" font-size="32" text-anchor="middle">**</text>
<rect x="1267.00" y="110.70" width="41.60" height="311.00" fill="#00b0f0"/>
<rect x="1350.80" y="88.50" width="41.40" height="333.20" fill="#ff0000"/>
<line x1="1287.8" y1="100.3" x2="1287.8" y2="120.9" stroke="#595959" stroke-width="2.9"/>
<line x1="1279.2" y1="100.3" x2="1296.3999999999999" y2="100.3" stroke="#595959" stroke-width="2.9"/>
<line x1="1279.2" y1="120.9" x2="1296.3999999999999" y2="120.9" stroke="#595959" stroke-width="2.9"/>
<line x1="1371.5" y1="68.6" x2="1371.5" y2="108.5" stroke="#595959" stroke-width="2.9"/>
<line x1="1362.9" y1="68.6" x2="1380.1" y2="68.6" stroke="#595959" stroke-width="2.9"/>
<line x1="1362.9" y1="108.5" x2="1380.1" y2="108.5" stroke="#595959" stroke-width="2.9"/>
<line x1="1246.4" y1="40.2" x2="1246.4" y2="423.09999999999997" stroke="#000" stroke-width="2.8"/>
<line x1="1237.0" y1="421.7" x2="1412.9" y2="421.7" stroke="#000" stroke-width="2.8"/>
<line x1="1237.0" y1="41.6" x2="1246.4" y2="41.6" stroke="#000" stroke-width="2.8"/>
<text transform="translate(1220.4 52.3) scale(0.975 1)" font-size="33" text-anchor="end">3.5</text>
<line x1="1237.0" y1="117.62" x2="1246.4" y2="117.62" stroke="#000" stroke-width="2.8"/>
<text transform="translate(1220.4 128.32) scale(0.975 1)" font-size="33" text-anchor="end">3.3</text>
<line x1="1237.0" y1="193.64" x2="1246.4" y2="193.64" stroke="#000" stroke-width="2.8"/>
<text transform="translate(1220.4 204.33999999999997) scale(0.975 1)" font-size="33" text-anchor="end">3.1</text>
<line x1="1237.0" y1="269.66" x2="1246.4" y2="269.66" stroke="#000" stroke-width="2.8"/>
<text transform="translate(1220.4 280.36) scale(0.975 1)" font-size="33" text-anchor="end">2.9</text>
<line x1="1237.0" y1="345.68" x2="1246.4" y2="345.68" stroke="#000" stroke-width="2.8"/>
<text transform="translate(1220.4 356.38) scale(0.975 1)" font-size="33" text-anchor="end">2.7</text>
<line x1="1237.0" y1="421.7" x2="1246.4" y2="421.7" stroke="#000" stroke-width="2.8"/>
<text transform="translate(1220.4 432.4) scale(0.975 1)" font-size="33" text-anchor="end">2.5</text>
<text transform="translate(1161.6 239.2) rotate(-90) scale(1 1.04)" font-size="31.6" text-anchor="middle">Grain width (mm)</text>
<text transform="translate(1295 448.3) rotate(-45) scale(1 1.04)" font-size="32" text-anchor="end">ZS97</text>
<text transform="translate(1380 449) rotate(-45) scale(1 1.04)" font-size="32" text-anchor="end">N232</text>
<text transform="translate(1376.5 61.1) scale(1 1.04)" font-size="32" text-anchor="middle">NS</text>
<rect x="1581.20" y="122.30" width="34.50" height="299.30" fill="#00b0f0"/>
<rect x="1650.50" y="136.70" width="34.50" height="284.90" fill="#ff0000"/>
<line x1="1598.45" y1="108" x2="1598.45" y2="136.7" stroke="#595959" stroke-width="2.9"/>
<line x1="1589.8500000000001" y1="108" x2="1607.05" y2="108" stroke="#595959" stroke-width="2.9"/>
<line x1="1589.8500000000001" y1="136.7" x2="1607.05" y2="136.7" stroke="#595959" stroke-width="2.9"/>
<line x1="1667.75" y1="122" x2="1667.75" y2="151" stroke="#595959" stroke-width="2.9"/>
<line x1="1659.15" y1="122" x2="1676.35" y2="122" stroke="#595959" stroke-width="2.9"/>
<line x1="1659.15" y1="151" x2="1676.35" y2="151" stroke="#595959" stroke-width="2.9"/>
<line x1="1564" y1="40.4" x2="1564" y2="423.0" stroke="#000" stroke-width="2.8"/>
<line x1="1554.6" y1="421.6" x2="1701.6" y2="421.6" stroke="#000" stroke-width="2.8"/>
<line x1="1554.6" y1="41.8" x2="1564" y2="41.8" stroke="#000" stroke-width="2.8"/>
<text transform="translate(1537 52.5) scale(0.975 1)" font-size="33" text-anchor="end">2.3</text>
<line x1="1554.6" y1="136.75" x2="1564" y2="136.75" stroke="#000" stroke-width="2.8"/>
<text transform="translate(1537 147.45) scale(0.975 1)" font-size="33" text-anchor="end">2.1</text>
<line x1="1554.6" y1="231.7" x2="1564" y2="231.7" stroke="#000" stroke-width="2.8"/>
<text transform="translate(1537 242.39999999999998) scale(0.975 1)" font-size="33" text-anchor="end">1.9</text>
<line x1="1554.6" y1="326.65000000000003" x2="1564" y2="326.65000000000003" stroke="#000" stroke-width="2.8"/>
<text transform="translate(1537 337.35) scale(0.975 1)" font-size="33" text-anchor="end">1.7</text>
<line x1="1554.6" y1="421.6" x2="1564" y2="421.6" stroke="#000" stroke-width="2.8"/>
<text transform="translate(1537 432.3) scale(0.975 1)" font-size="33" text-anchor="end">1.5</text>
<text transform="translate(1474.5 233.2) rotate(-90) scale(1 1.04)" font-size="31.6" text-anchor="middle">Grain thickness (mm)</text>
<text transform="translate(1605 451.5) rotate(-45) scale(1 1.04)" font-size="32" text-anchor="end">ZS97</text>
<text transform="translate(1675 452) rotate(-45) scale(1 1.04)" font-size="32" text-anchor="end">N232</text>
<text transform="translate(1669 110.8) scale(1 1.04)" font-size="32" text-anchor="middle">NS</text>
<rect x="1878.80" y="161.10" width="35.80" height="253.50" fill="#00b0f0"/>
<rect x="1950.80" y="94.60" width="36.20" height="320.00" fill="#ff0000"/>
<line x1="1896.6999999999998" y1="138.5" x2="1896.6999999999998" y2="183.9" stroke="#595959" stroke-width="2.9"/>
<line x1="1888.1" y1="138.5" x2="1905.2999999999997" y2="138.5" stroke="#595959" stroke-width="2.9"/>
<line x1="1888.1" y1="183.9" x2="1905.2999999999997" y2="183.9" stroke="#595959" stroke-width="2.9"/>
<line x1="1968.9" y1="67.9" x2="1968.9" y2="121.6" stroke="#595959" stroke-width="2.9"/>
<line x1="1960.3000000000002" y1="67.9" x2="1977.5" y2="67.9" stroke="#595959" stroke-width="2.9"/>
<line x1="1960.3000000000002" y1="121.6" x2="1977.5" y2="121.6" stroke="#595959" stroke-width="2.9"/>
<line x1="1861.6" y1="38.800000000000004" x2="1861.6" y2="416.0" stroke="#000" stroke-width="2.8"/>
<line x1="1852.1999999999998" y1="414.6" x2="2006" y2="414.6" stroke="#000" stroke-width="2.8"/>
<line x1="1852.1999999999998" y1="40.2" x2="1861.6" y2="40.2" stroke="#000" stroke-width="2.8"/>
<text transform="translate(1835.3 50.900000000000006) scale(0.975 1)" font-size="33" text-anchor="end">27</text>
<line x1="1852.1999999999998" y1="102.60000000000001" x2="1861.6" y2="102.60000000000001" stroke="#000" stroke-width="2.8"/>
<text transform="translate(1835.3 113.30000000000001) scale(0.975 1)" font-size="33" text-anchor="end">26</text>
<line x1="1852.1999999999998" y1="165.0" x2="1861.6" y2="165.0" stroke="#000" stroke-width="2.8"/>
<text transform="translate(1835.3 175.7) scale(0.975 1)" font-size="33" text-anchor="end">25</text>
<line x1="1852.1999999999998" y1="227.40000000000003" x2="1861.6" y2="227.40000000000003" stroke="#000" stroke-width="2.8"/>
<text transform="translate(1835.3 238.10000000000002) scale(0.975 1)" font-size="33" text-anchor="end">24</text>
<line x1="1852.1999999999998" y1="289.8" x2="1861.6" y2="289.8" stroke="#000" stroke-width="2.8"/>
<text transform="translate(1835.3 300.5) scale(0.975 1)" font-size="33" text-anchor="end">23</text>
<line x1="1852.1999999999998" y1="352.20000000000005" x2="1861.6" y2="352.20000000000005" stroke="#000" stroke-width="2.8"/>
<text transform="translate(1835.3 362.90000000000003) scale(0.975 1)" font-size="33" text-anchor="end">22</text>
<line x1="1852.1999999999998" y1="414.6" x2="1861.6" y2="414.6" stroke="#000" stroke-width="2.8"/>
<text transform="translate(1835.3 425.3) scale(0.975 1)" font-size="33" text-anchor="end">21</text>
<text transform="translate(1770.1 233.4) rotate(-90) scale(1 1.04)" font-size="31.2" text-anchor="middle">1000-grain weight (g)</text>
<text transform="translate(1905.5 444) rotate(-45) scale(1 1.04)" font-size="32" text-anchor="end">ZS97</text>
<text transform="translate(1977.5 445) rotate(-45) scale(1 1.04)" font-size="32" text-anchor="end">N232</text>
<text transform="translate(1965 70.5) scale(1 1.04)" font-size="32" text-anchor="middle">**</text>
</g>
<g id="panel-c">
<text transform="translate(3 569.5) scale(1 1.03)" font-size="46" font-weight="bold">c</text>
<rect x="124" y="769.5" width="982.4" height="16.8" rx="8.4" ry="8.4" fill="#0a0af8"/>
<line x1="136.2" y1="552" x2="136.2" y2="805" stroke="#0a0af8" stroke-width="4.8"/>
<line x1="136.8" y1="589.8" x2="150.6" y2="589.8" stroke="#0a0af8" stroke-width="3"/>
<line x1="136.8" y1="646.1" x2="150.6" y2="646.1" stroke="#0a0af8" stroke-width="3"/>
<line x1="136.8" y1="702.7" x2="150.6" y2="702.7" stroke="#0a0af8" stroke-width="3"/>
<line x1="136.8" y1="758.8" x2="141.2" y2="758.8" stroke="#0a0af8" stroke-width="2"/>
<line x1="136.8" y1="747.52" x2="141.2" y2="747.52" stroke="#0a0af8" stroke-width="2"/>
<line x1="136.8" y1="736.24" x2="141.2" y2="736.24" stroke="#0a0af8" stroke-width="2"/>
<line x1="136.8" y1="724.9599999999999" x2="141.2" y2="724.9599999999999" stroke="#0a0af8" stroke-width="2"/>
<line x1="136.8" y1="713.68" x2="141.2" y2="713.68" stroke="#0a0af8" stroke-width="2"/>
<line x1="136.8" y1="702.4" x2="141.2" y2="702.4" stroke="#0a0af8" stroke-width="2"/>
<line x1="136.8" y1="691.12" x2="141.2" y2="691.12" stroke="#0a0af8" stroke-width="2"/>
<line x1="136.8" y1="679.8399999999999" x2="141.2" y2="679.8399999999999" stroke="#0a0af8" stroke-width="2"/>
<line x1="136.8" y1="668.56" x2="141.2" y2="668.56" stroke="#0a0af8" stroke-width="2"/>
<line x1="136.8" y1="657.28" x2="141.2" y2="657.28" stroke="#0a0af8" stroke-width="2"/>
<line x1="136.8" y1="646.0" x2="141.2" y2="646.0" stroke="#0a0af8" stroke-width="2"/>
<line x1="136.8" y1="634.7199999999999" x2="141.2" y2="634.7199999999999" stroke="#0a0af8" stroke-width="2"/>
<line x1="136.8" y1="623.4399999999999" x2="141.2" y2="623.4399999999999" stroke="#0a0af8" stroke-width="2"/>
<line x1="136.8" y1="612.16" x2="141.2" y2="612.16" stroke="#0a0af8" stroke-width="2"/>
<line x1="136.8" y1="600.88" x2="141.2" y2="600.88" stroke="#0a0af8" stroke-width="2"/>
<line x1="136.8" y1="589.5999999999999" x2="141.2" y2="589.5999999999999" stroke="#0a0af8" stroke-width="2"/>
<line x1="136.8" y1="578.3199999999999" x2="141.2" y2="578.3199999999999" stroke="#0a0af8" stroke-width="2"/>
<line x1="136.8" y1="567.04" x2="141.2" y2="567.04" stroke="#0a0af8" stroke-width="2"/>
<line x1="136.8" y1="555.76" x2="141.2" y2="555.76" stroke="#0a0af8" stroke-width="2"/>
<line x1="136.8" y1="758.8" x2="1092.6" y2="758.8" stroke="#0a0af8" stroke-width="3"/>
<line x1="278.5" y1="758.8" x2="278.5" y2="769.5" stroke="#0a0af8" stroke-width="3.5"/>
<line x1="422.3" y1="758.8" x2="422.3" y2="769.5" stroke="#0a0af8" stroke-width="3.5"/>
<line x1="566.1" y1="758.8" x2="566.1" y2="769.5" stroke="#0a0af8" stroke-width="3.5"/>
<line x1="709.9000000000001" y1="758.8" x2="709.9000000000001" y2="769.5" stroke="#0a0af8" stroke-width="3.5"/>
<line x1="853.7" y1="758.8" x2="853.7" y2="769.5" stroke="#0a0af8" stroke-width="3.5"/>
<line x1="997.5" y1="758.8" x2="997.5" y2="769.5" stroke="#0a0af8" stroke-width="3.5"/>
<line x1="206.6" y1="758.8" x2="206.6" y2="762.5" stroke="#0a0af8" stroke-width="3"/>
<line x1="350.4" y1="758.8" x2="350.4" y2="762.5" stroke="#0a0af8" stroke-width="3"/>
<line x1="494.2" y1="758.8" x2="494.2" y2="762.5" stroke="#0a0af8" stroke-width="3"/>
<line x1="638.0" y1="758.8" x2="638.0" y2="762.5" stroke="#0a0af8" stroke-width="3"/>
<line x1="781.8" y1="758.8" x2="781.8" y2="762.5" stroke="#0a0af8" stroke-width="3"/>
<line x1="925.6000000000001" y1="758.8" x2="925.6000000000001" y2="762.5" stroke="#0a0af8" stroke-width="3"/>
<line x1="1069.4" y1="758.8" x2="1069.4" y2="762.5" stroke="#0a0af8" stroke-width="3"/>
<path d="M146.3 785 L169.3 799 Q172.3 800.5 172.3 805" fill="none" stroke="#0a0af8" stroke-width="3.2"/>
<path d="M165.3 785 L202.7 799 Q205.7 800.5 205.7 805" fill="none" stroke="#0a0af8" stroke-width="3.2"/>
<path d="M188.2 785 L236.7 799 Q239.7 800.5 239.7 805" fill="none" stroke="#0a0af8" stroke-width="3.2"/>
<path d="M222.8 785 L270.3 799 Q273.3 800.5 273.3 805" fill="none" stroke="#0a0af8" stroke-width="3.2"/>
<path d="M278.5 785 L303.1 799 Q306.1 800.5 306.1 805" fill="none" stroke="#0a0af8" stroke-width="3.2"/>
<line x1="379.6" y1="785" x2="379.6" y2="805" stroke="#0a0af8" stroke-width="4"/>
<line x1="496.5" y1="785" x2="496.5" y2="805" stroke="#0a0af8" stroke-width="4"/>
<line x1="617.5" y1="785" x2="617.5" y2="805" stroke="#0a0af8" stroke-width="4"/>
<line x1="763.5" y1="785" x2="763.5" y2="805" stroke="#0a0af8" stroke-width="4"/>
<line x1="914.5" y1="785" x2="914.5" y2="805" stroke="#0a0af8" stroke-width="4"/>
<line x1="1094" y1="785" x2="1094" y2="805" stroke="#0a0af8" stroke-width="4"/>
<line x1="136.8" y1="770.5" x2="136.8" y2="785.5" stroke="#2a36d8" stroke-width="2.5"/>
<line x1="146.3" y1="770.5" x2="146.3" y2="785.5" stroke="#2a36d8" stroke-width="2.5"/>
<line x1="165.3" y1="770.5" x2="165.3" y2="785.5" stroke="#2a36d8" stroke-width="2.5"/>
<line x1="188.2" y1="770.5" x2="188.2" y2="785.5" stroke="#2a36d8" stroke-width="2.5"/>
<line x1="222.8" y1="770.5" x2="222.8" y2="785.5" stroke="#2a36d8" stroke-width="2.5"/>
<line x1="278.5" y1="770.5" x2="278.5" y2="785.5" stroke="#2a36d8" stroke-width="2.5"/>
<line x1="379.6" y1="770.5" x2="379.6" y2="785.5" stroke="#2a36d8" stroke-width="2.5"/>
<line x1="617.5" y1="770.5" x2="617.5" y2="785.5" stroke="#2a36d8" stroke-width="2.5"/>
<line x1="763.5" y1="770.5" x2="763.5" y2="785.5" stroke="#2a36d8" stroke-width="2.5"/>
<line x1="914.5" y1="770.5" x2="914.5" y2="785.5" stroke="#2a36d8" stroke-width="2.5"/>
<line x1="1094" y1="770.5" x2="1094" y2="785.5" stroke="#2a36d8" stroke-width="2.5"/>
<rect x="492.80" y="771.00" width="7.40" height="13.50" fill="#f01020"/>
<polyline fill="none" stroke="#ee1c1c" stroke-width="3.4" stroke-linejoin="round" points="137,748 150,748.6 170,751 205,754 250,755 290,756.2 330,756.3 373.5,756.3 376,700 378,620 379.5,570 381,567.5 390,564.5 410,560.5 440,556 470,552.5 490,550.3 505,550.2 530,551.5 560,553.6 590,555.6 608,557.5 610.8,559 613,620 616,700 619.5,749.6 630,751.5 680,752.6 713,753.4 780,754.2 860,754.4 924,754 940,752.5 970,750.8 1000,749.6 1030,748.4 1060,747.6 1075,746.8 1085,745.6"/>
<text transform="translate(149.2 814.4) rotate(-90) scale(1 1.04)" font-size="32" text-anchor="end">M1</text>
<text transform="translate(183.2 814.4) rotate(-90) scale(1 1.04)" font-size="32" text-anchor="end">M2</text>
<text transform="translate(218.5 814.4) rotate(-90) scale(1 1.04)" font-size="32" text-anchor="end">M3</text>
<text transform="translate(252.5 814.4) rotate(-90) scale(1 1.04)" font-size="32" text-anchor="end">M4</text>
<text transform="translate(286.5 814.4) rotate(-90) scale(1 1.04)" font-size="32" text-anchor="end">M5</text>
<text transform="translate(321.0 814.4) rotate(-90) scale(1 1.04)" font-size="32" text-anchor="end">M6</text>
<text transform="translate(393.0 814.4) rotate(-90) scale(1 1.04)" font-size="32" text-anchor="end">M7</text>
<text transform="translate(510.5 814.4) rotate(-90) scale(1 1.04)" font-size="32" text-anchor="end">M8</text>
<text transform="translate(633.5 814.4) rotate(-90) scale(1 1.04)" font-size="32" text-anchor="end">M9</text>
<text transform="translate(778.1 814.4) rotate(-90) scale(1 1.04)" font-size="32" text-anchor="end">M10</text>
<text transform="translate(928.5 814.4) rotate(-90) scale(1 1.04)" font-size="32" text-anchor="end">M11</text>
<text transform="translate(1107.1 814.4) rotate(-90) scale(1 1.04)" font-size="32" text-anchor="end">M12</text>
<text transform="translate(113.2 591.7) rotate(-90) scale(0.95 1)" font-size="33" text-anchor="middle">15</text>
<text transform="translate(113.2 644.6) rotate(-90) scale(0.95 1)" font-size="33" text-anchor="middle">10</text>
<text transform="translate(113.2 706.5) rotate(-90) scale(0.95 1)" font-size="33" text-anchor="middle">5</text>
<text transform="translate(113.2 758) rotate(-90) scale(0.95 1)" font-size="33" text-anchor="middle">0</text>
<text transform="translate(72.5 665.2) rotate(-90) scale(1 1.04)" font-size="32" text-anchor="middle">LOD Score</text>
<text transform="translate(794.3 619.5) scale(1 1.04)" font-size="31.5">PVE: 52%</text>
<text transform="translate(794.3 656.4) scale(1 1.04)" font-size="31.5">Add:</text>
<text transform="translate(939 656.4) scale(1 1.04)" font-size="31.5" text-anchor="end">0.15</text>
<text transform="translate(794.3 694.5) scale(1 1.04)" font-size="31.5">Dom: 0.03</text>
<line x1="353.5" y1="852.7" x2="127" y2="965.2" stroke="#000" stroke-width="2.9"/>
<line x1="649.7" y1="851.5" x2="1055.3" y2="959.7" stroke="#000" stroke-width="2.9"/>
</g>
<g id="panel-d">
<text transform="translate(3 953.1) scale(1 1.03)" font-size="46" font-weight="bold">d</text>
<rect x="103.50" y="1037.70" width="987.50" height="17.00" fill="#000"/>
<line x1="122.4" y1="1021.5" x2="122.4" y2="1038" stroke="#000" stroke-width="5.5"/>
<text transform="translate(135.2 1013.8) rotate(-90) scale(1 1.04)" font-size="31">M7</text>
<text transform="translate(117 1087.1) scale(1 1.04)" font-size="31" text-anchor="middle">20</text>
<line x1="202" y1="1021.5" x2="202" y2="1038" stroke="#000" stroke-width="5.5"/>
<text transform="translate(213.2 1013.8) rotate(-90) scale(1 1.04)" font-size="31">ID1</text>
<text transform="translate(197.4 1087.1) scale(1 1.04)" font-size="31" text-anchor="middle">16</text>
<line x1="306.1" y1="1021.5" x2="306.1" y2="1038" stroke="#000" stroke-width="5.5"/>
<text transform="translate(320.4 1013.8) rotate(-90) scale(1 1.04)" font-size="31">ID2</text>
<text transform="translate(302.4 1087.1) scale(1 1.04)" font-size="31" text-anchor="middle">1</text>
<line x1="344.4" y1="1021.5" x2="344.4" y2="1038" stroke="#000" stroke-width="5.5"/>
<text transform="translate(358.59999999999997 1013.8) rotate(-90) scale(1 1.04)" font-size="31">ID3</text>
<text transform="translate(346.5 1087.1) scale(1 1.04)" font-size="31" text-anchor="middle">0</text>
<line x1="385.7" y1="1021.5" x2="385.7" y2="1038" stroke="#000" stroke-width="5.5"/>
<text transform="translate(399.3 1013.8) rotate(-90) scale(1 1.04)" font-size="31">ID5</text>
<text transform="translate(381.7 1087.1) scale(1 1.04)" font-size="31" text-anchor="middle">1</text>
<line x1="462.8" y1="1021.5" x2="462.8" y2="1038" stroke="#000" stroke-width="5.5"/>
<text transform="translate(475.5 1013.8) rotate(-90) scale(1 1.04)" font-size="31">ID6</text>
<text transform="translate(461.6 1087.1) scale(1 1.04)" font-size="31" text-anchor="middle">5</text>
<line x1="529.5" y1="1021.5" x2="529.5" y2="1038" stroke="#000" stroke-width="5.5"/>
<text transform="translate(543.2 1013.8) rotate(-90) scale(1 1.04)" font-size="31">ID7</text>
<text transform="translate(522.8 1087.1) scale(1 1.04)" font-size="31" text-anchor="middle">24</text>
<line x1="598.3" y1="1021.5" x2="598.3" y2="1038" stroke="#000" stroke-width="5.5"/>
<text transform="translate(611.9000000000001 1013.8) rotate(-90) scale(1 1.04)" font-size="31">ID8</text>
<text transform="translate(603.8 1087.1) scale(1 1.04)" font-size="31" text-anchor="middle">38</text>
<line x1="781" y1="1021.5" x2="781" y2="1038" stroke="#000" stroke-width="5.5"/>
<text transform="translate(794.6 1013.8) rotate(-90) scale(1 1.04)" font-size="31">M8</text>
<text transform="translate(780.4 1087.1) scale(1 1.04)" font-size="31" text-anchor="middle">113</text>
<line x1="908.3" y1="1021.5" x2="908.3" y2="1038" stroke="#000" stroke-width="5.5"/>
<text transform="translate(920.2 1013.8) rotate(-90) scale(1 1.04)" font-size="31">ID9</text>
<text transform="translate(912 1087.1) scale(1 1.04)" font-size="31" text-anchor="middle">180</text>
<line x1="1002.6" y1="1021.5" x2="1002.6" y2="1038" stroke="#000" stroke-width="5.5"/>
<text transform="translate(1017.2 1013.8) rotate(-90) scale(1 1.04)" font-size="31">ID10</text>
<text transform="translate(1000.8 1087.1) scale(1 1.04)" font-size="31" text-anchor="middle">190</text>
<line x1="1068.1" y1="1021.5" x2="1068.1" y2="1038" stroke="#000" stroke-width="5.5"/>
<text transform="translate(1084.5 1013.8) rotate(-90) scale(1 1.04)" font-size="31">M9</text>
<text transform="translate(1069.6 1087.1) scale(1 1.04)" font-size="31" text-anchor="middle">191</text>
<text transform="translate(1112.4 1008) scale(1 1.04)" font-size="31.5">n = 3500</text>
<rect x="103.50" y="1141.20" width="987.50" height="19.00" fill="#bfbfbf"/>
<text transform="translate(1105.5 1161.8) scale(1 1.04)" font-size="31">L1</text>
<rect x="103.50" y="1185.60" width="989.10" height="19.60" fill="#000"/>
<text transform="translate(1105.5 1207.8) scale(1 1.04)" font-size="31">L2</text>
<rect x="103.50" y="1233.60" width="45.90" height="19.30" fill="#bfbfbf"/>
<rect x="149.40" y="1233.60" width="940.60" height="19.30" fill="#000"/>
<text transform="translate(1105.5 1254.8) scale(1 1.04)" font-size="31">L3</text>
<rect x="101.00" y="1279.50" width="136.80" height="19.30" fill="#bfbfbf"/>
<rect x="237.80" y="1279.50" width="852.20" height="19.30" fill="#000"/>
<text transform="translate(1105.5 1300.0) scale(1 1.04)" font-size="31">L4</text>
<rect x="100.00" y="1324.40" width="214.70" height="19.50" fill="#bfbfbf"/>
<rect x="314.70" y="1324.40" width="775.70" height="19.50" fill="#000"/>
<text transform="translate(1105.5 1347.0) scale(1 1.04)" font-size="31">L5</text>
<rect x="102.00" y="1375.00" width="308.50" height="18.70" fill="#bfbfbf"/>
<rect x="410.50" y="1375.00" width="679.90" height="18.70" fill="#000"/>
<text transform="translate(1105.5 1393.8) scale(1 1.04)" font-size="31">L6</text>
<rect x="98.90" y="1419.40" width="155.80" height="19.10" fill="#000"/>
<rect x="254.70" y="1419.40" width="834.60" height="19.10" fill="#bfbfbf"/>
<text transform="translate(1105.5 1439.6) scale(1 1.04)" font-size="31">L7</text>
<rect x="102.00" y="1463.70" width="265.30" height="19.10" fill="#000"/>
<rect x="367.30" y="1463.70" width="722.70" height="19.10" fill="#bfbfbf"/>
<text transform="translate(1105.5 1485.6) scale(1 1.04)" font-size="31">L8</text>
<rect x="99.80" y="1513.80" width="318.30" height="19.60" fill="#000"/>
<rect x="418.10" y="1513.80" width="672.30" height="19.60" fill="#bfbfbf"/>
<text transform="translate(1105.5 1532.0) scale(1 1.04)" font-size="31">L9</text>
<rect x="99.80" y="1552.80" width="443.50" height="19.20" fill="#000"/>
<rect x="543.30" y="1552.80" width="546.30" height="19.20" fill="#bfbfbf"/>
<text transform="translate(1105.5 1579.2) scale(1 1.04)" font-size="31">L10</text>
<line x1="304" y1="1096" x2="304" y2="1585" stroke="#000" stroke-width="1.9" stroke-dasharray="6.8 3.7"/>
<line x1="384.5" y1="1096" x2="384.5" y2="1589.5" stroke="#000" stroke-width="1.9" stroke-dasharray="6.8 3.7"/>
<line x1="304" y1="1585.3" x2="91" y2="1622.3" stroke="#000" stroke-width="2.7"/>
<line x1="384.5" y1="1589.3" x2="752.5" y2="1616.4" stroke="#000" stroke-width="2.7"/>
<text transform="translate(344 1623.8) scale(1 1.04)" font-size="31" text-anchor="middle">25 kb</text>
<path d="M105.2 1645.6 H184 L194 1655.4499999999998 L184 1665.3 H105.2 Z" fill="#fff" stroke="#000" stroke-width="5.6" stroke-linejoin="round"/>
<path d="M232.9 1645.6 H289 L299.6 1655.4499999999998 L289 1665.3 H232.9 Z" fill="#fff" stroke="#000" stroke-width="5.6" stroke-linejoin="round"/>
<path d="M477.3 1645.6 H376.8 L366 1655.4499999999998 L376.8 1665.3 H477.3 Z" fill="#fff" stroke="#000" stroke-width="5.6" stroke-linejoin="round"/>
<path d="M599.8 1645.6 H554.8 L544.7 1655.4499999999998 L554.8 1665.3 H599.8 Z" fill="#fff" stroke="#000" stroke-width="5.6" stroke-linejoin="round"/>
<path d="M768.4 1643 H665 L654 1654.8 L665 1666.6 H768.4 Z" fill="#00b050" stroke="#00b050" stroke-width="4" stroke-linejoin="round"/>
<text transform="translate(618 1712.5) scale(1 1.04)" font-size="31.7" font-style="italic">Os11g0528700</text>
<rect x="999.30" y="1620.40" width="89.30" height="18.90" fill="#bfbfbf"/>
<rect x="999.30" y="1661.40" width="89.30" height="19.30" fill="#000"/>
<text transform="translate(1106.3 1645.9) scale(1 1.04)" font-size="32">ZS97</text>
<text transform="translate(1106 1684.2) scale(1 1.04)" font-size="32">NIP</text>
<text transform="translate(1284.6 1070) scale(1 1.04)" font-size="32" text-anchor="middle">GL (mm)</text>
<text transform="translate(1625.7 1070) scale(1 1.04)" font-size="31" text-anchor="middle">TGW (g)</text>
<text transform="translate(1172.5 1107.6) scale(1 1.04)" font-size="31" text-anchor="middle">8.0</text>
<text transform="translate(1287.5 1107.6) scale(1 1.04)" font-size="31" text-anchor="middle">8.5</text>
<text transform="translate(1402.5 1107.6) scale(1 1.04)" font-size="31" text-anchor="middle">9.0</text>
<text transform="translate(1525 1107.6) scale(1 1.04)" font-size="31" text-anchor="middle">23.0</text>
<text transform="translate(1631 1107.6) scale(1 1.04)" font-size="31" text-anchor="middle">25.5</text>
<text transform="translate(1745.7 1107.6) scale(1 1.04)" font-size="31" text-anchor="middle">28.0</text>
<line x1="1171.3" y1="1127.8" x2="1405.8" y2="1127.8" stroke="#000" stroke-width="2.5"/>
<line x1="1172.5" y1="1116" x2="1172.5" y2="1127.8" stroke="#000" stroke-width="2.5"/>
<line x1="1285.7" y1="1116" x2="1285.7" y2="1127.8" stroke="#000" stroke-width="2.5"/>
<line x1="1404.6" y1="1116" x2="1404.6" y2="1127.8" stroke="#000" stroke-width="2.5"/>
<line x1="1513.8" y1="1127.8" x2="1748.3" y2="1127.8" stroke="#000" stroke-width="2.5"/>
<line x1="1515" y1="1116" x2="1515" y2="1127.8" stroke="#000" stroke-width="2.5"/>
<line x1="1628.6" y1="1116" x2="1628.6" y2="1127.8" stroke="#000" stroke-width="2.5"/>
<line x1="1747.1" y1="1116" x2="1747.1" y2="1127.8" stroke="#000" stroke-width="2.5"/>
<line x1="1220.4" y1="1160.7" x2="1262.9" y2="1160.7" stroke="#4a4a4a" stroke-width="1.8"/>
<line x1="1220.4" y1="1154.5" x2="1220.4" y2="1166.9" stroke="#4a4a4a" stroke-width="1.8"/>
<line x1="1262.9" y1="1154.5" x2="1262.9" y2="1166.9" stroke="#4a4a4a" stroke-width="1.8"/>
<rect x="1235.90" y="1140.80" width="18.90" height="38.90" fill="#00b0f0" stroke="#12354d" stroke-width="1.6"/>
<line x1="1241.5" y1="1140.8" x2="1241.5" y2="1179.7" stroke="#12354d" stroke-width="1.6"/>
<line x1="1320.8" y1="1204.1" x2="1359.7" y2="1204.1" stroke="#4a4a4a" stroke-width="1.8"/>
<line x1="1320.8" y1="1197.8999999999999" x2="1320.8" y2="1210.3" stroke="#4a4a4a" stroke-width="1.8"/>
<line x1="1359.7" y1="1197.8999999999999" x2="1359.7" y2="1210.3" stroke="#4a4a4a" stroke-width="1.8"/>
<rect x="1329.60" y="1185.50" width="17.80" height="38.50" fill="#ff0000" stroke="#5a0808" stroke-width="1.6"/>
<line x1="1332.9" y1="1185.5" x2="1332.9" y2="1224.0" stroke="#5a0808" stroke-width="1.6"/>
<text transform="translate(1364.3 1206.7) rotate(90) scale(1 1.04)" font-size="30" text-anchor="middle">**</text>
<line x1="1323.7" y1="1248.8" x2="1364.9" y2="1248.8" stroke="#4a4a4a" stroke-width="1.8"/>
<line x1="1323.7" y1="1242.6" x2="1323.7" y2="1255.0" stroke="#4a4a4a" stroke-width="1.8"/>
<line x1="1364.9" y1="1242.6" x2="1364.9" y2="1255.0" stroke="#4a4a4a" stroke-width="1.8"/>
<rect x="1336.30" y="1229.80" width="17.80" height="38.70" fill="#ff0000" stroke="#5a0808" stroke-width="1.6"/>
<line x1="1344.4" y1="1229.8" x2="1344.4" y2="1268.5" stroke="#5a0808" stroke-width="1.6"/>
<text transform="translate(1372.9 1248.8) rotate(90) scale(1 1.04)" font-size="30" text-anchor="middle">**</text>
<line x1="1314.8" y1="1293.6" x2="1353.4" y2="1293.6" stroke="#4a4a4a" stroke-width="1.8"/>
<line x1="1314.8" y1="1287.3999999999999" x2="1314.8" y2="1299.8" stroke="#4a4a4a" stroke-width="1.8"/>
<line x1="1353.4" y1="1287.3999999999999" x2="1353.4" y2="1299.8" stroke="#4a4a4a" stroke-width="1.8"/>
<rect x="1331.20" y="1274.20" width="13.00" height="38.80" fill="#ff0000" stroke="#5a0808" stroke-width="1.6"/>
<line x1="1335.7" y1="1274.2" x2="1335.7" y2="1313.0" stroke="#5a0808" stroke-width="1.6"/>
<text transform="translate(1359.9 1297.7) rotate(90) scale(1 1.04)" font-size="30" text-anchor="middle">**</text>
<line x1="1311.8" y1="1339.6" x2="1347.6" y2="1339.6" stroke="#4a4a4a" stroke-width="1.8"/>
<line x1="1311.8" y1="1333.3999999999999" x2="1311.8" y2="1345.8" stroke="#4a4a4a" stroke-width="1.8"/>
<line x1="1347.6" y1="1333.3999999999999" x2="1347.6" y2="1345.8" stroke="#4a4a4a" stroke-width="1.8"/>
<rect x="1314.90" y="1318.90" width="19.80" height="41.90" fill="#ff0000" stroke="#5a0808" stroke-width="1.6"/>
<line x1="1320.1" y1="1318.8999999999999" x2="1320.1" y2="1360.8" stroke="#5a0808" stroke-width="1.6"/>
<text transform="translate(1352.9 1345) rotate(90) scale(1 1.04)" font-size="30" text-anchor="middle">**</text>
<line x1="1225.3" y1="1384.5" x2="1259" y2="1384.5" stroke="#4a4a4a" stroke-width="1.8"/>
<line x1="1225.3" y1="1378.3" x2="1225.3" y2="1390.7" stroke="#4a4a4a" stroke-width="1.8"/>
<line x1="1259" y1="1378.3" x2="1259" y2="1390.7" stroke="#4a4a4a" stroke-width="1.8"/>
<rect x="1230.20" y="1363.40" width="21.40" height="41.60" fill="#00b0f0" stroke="#12354d" stroke-width="1.6"/>
<line x1="1241.2" y1="1363.3999999999999" x2="1241.2" y2="1405.0" stroke="#12354d" stroke-width="1.6"/>
<text transform="translate(1273 1399.9) scale(1 1.04)" font-size="31.5">NS</text>
<line x1="1227.5" y1="1429" x2="1267.1" y2="1429" stroke="#4a4a4a" stroke-width="1.8"/>
<line x1="1227.5" y1="1422.8" x2="1227.5" y2="1435.2" stroke="#4a4a4a" stroke-width="1.8"/>
<line x1="1267.1" y1="1422.8" x2="1267.1" y2="1435.2" stroke="#4a4a4a" stroke-width="1.8"/>
<rect x="1235.00" y="1408.30" width="24.50" height="41.90" fill="#00b0f0" stroke="#12354d" stroke-width="1.6"/>
<line x1="1251.8" y1="1408.3" x2="1251.8" y2="1450.2" stroke="#12354d" stroke-width="1.6"/>
<text transform="translate(1280.7 1444.1) scale(1 1.04)" font-size="31.5">NS</text>
<line x1="1302.6" y1="1475" x2="1352.1" y2="1475" stroke="#4a4a4a" stroke-width="1.8"/>
<line x1="1302.6" y1="1468.8" x2="1302.6" y2="1481.2" stroke="#4a4a4a" stroke-width="1.8"/>
<line x1="1352.1" y1="1468.8" x2="1352.1" y2="1481.2" stroke="#4a4a4a" stroke-width="1.8"/>
<rect x="1316.70" y="1456.00" width="20.30" height="38.40" fill="#ff0000" stroke="#5a0808" stroke-width="1.6"/>
<line x1="1324" y1="1456.0" x2="1324" y2="1494.4" stroke="#5a0808" stroke-width="1.6"/>
<text transform="translate(1359.7 1475.8) rotate(90) scale(1 1.04)" font-size="30" text-anchor="middle">**</text>
<line x1="1319.7" y1="1519.5" x2="1356.5" y2="1519.5" stroke="#4a4a4a" stroke-width="1.8"/>
<line x1="1319.7" y1="1513.3" x2="1319.7" y2="1525.7" stroke="#4a4a4a" stroke-width="1.8"/>
<line x1="1356.5" y1="1513.3" x2="1356.5" y2="1525.7" stroke="#4a4a4a" stroke-width="1.8"/>
<rect x="1324.80" y="1500.80" width="20.10" height="38.40" fill="#ff0000" stroke="#5a0808" stroke-width="1.6"/>
<line x1="1330.1" y1="1500.8" x2="1330.1" y2="1539.2" stroke="#5a0808" stroke-width="1.6"/>
<text transform="translate(1364.3 1518.2) rotate(90) scale(1 1.04)" font-size="30" text-anchor="middle">**</text>
<line x1="1314.8" y1="1563.6" x2="1361.7" y2="1563.6" stroke="#4a4a4a" stroke-width="1.8"/>
<line x1="1314.8" y1="1557.3999999999999" x2="1314.8" y2="1569.8" stroke="#4a4a4a" stroke-width="1.8"/>
<line x1="1361.7" y1="1557.3999999999999" x2="1361.7" y2="1569.8" stroke="#4a4a4a" stroke-width="1.8"/>
<rect x="1335.20" y="1545.10" width="15.70" height="38.40" fill="#ff0000" stroke="#5a0808" stroke-width="1.6"/>
<line x1="1345.7" y1="1545.1" x2="1345.7" y2="1583.5" stroke="#5a0808" stroke-width="1.6"/>
<text transform="translate(1363.5 1564.9) rotate(90) scale(1 1.04)" font-size="30" text-anchor="middle">**</text>
<line x1="1609.2" y1="1162" x2="1676.5" y2="1162" stroke="#808080" stroke-width="1.7"/>
<line x1="1609.2" y1="1155.8" x2="1609.2" y2="1168.2" stroke="#808080" stroke-width="1.7"/>
<line x1="1676.5" y1="1155.8" x2="1676.5" y2="1168.2" stroke="#808080" stroke-width="1.7"/>
<rect x="1617.95" y="1140.65" width="34.70" height="42.10" fill="#00b0f0" stroke="#1f6a92" stroke-width="1.3"/>
<line x1="1633.9" y1="1140.65" x2="1633.9" y2="1182.75" stroke="#1f6a92" stroke-width="1.3"/>
<line x1="1655.8" y1="1207.7" x2="1718.5" y2="1207.7" stroke="#808080" stroke-width="1.7"/>
<line x1="1655.8" y1="1201.5" x2="1655.8" y2="1213.9" stroke="#808080" stroke-width="1.7"/>
<line x1="1718.5" y1="1201.5" x2="1718.5" y2="1213.9" stroke="#808080" stroke-width="1.7"/>
<rect x="1679.25" y="1187.55" width="24.30" height="39.90" fill="#ff0000" stroke="#a01414" stroke-width="1.3"/>
<line x1="1691.6" y1="1187.5500000000002" x2="1691.6" y2="1227.4499999999998" stroke="#a01414" stroke-width="1.3"/>
<text transform="translate(1705.6 1206.7) rotate(90) scale(1 1.04)" font-size="30" text-anchor="middle">**</text>
<line x1="1652.9" y1="1252.7" x2="1735.7" y2="1252.7" stroke="#808080" stroke-width="1.7"/>
<line x1="1652.9" y1="1246.5" x2="1652.9" y2="1258.9" stroke="#808080" stroke-width="1.7"/>
<line x1="1735.7" y1="1246.5" x2="1735.7" y2="1258.9" stroke="#808080" stroke-width="1.7"/>
<rect x="1674.15" y="1232.25" width="26.20" height="42.10" fill="#ff0000" stroke="#a01414" stroke-width="1.3"/>
<line x1="1684.2" y1="1232.25" x2="1684.2" y2="1274.35" stroke="#a01414" stroke-width="1.3"/>
<text transform="translate(1728.1 1253.3) rotate(90) scale(1 1.04)" font-size="30" text-anchor="middle">**</text>
<line x1="1650.1" y1="1299.3" x2="1730" y2="1299.3" stroke="#808080" stroke-width="1.7"/>
<line x1="1650.1" y1="1293.1" x2="1650.1" y2="1305.5" stroke="#808080" stroke-width="1.7"/>
<line x1="1730" y1="1293.1" x2="1730" y2="1305.5" stroke="#808080" stroke-width="1.7"/>
<rect x="1673.15" y="1279.25" width="24.00" height="40.30" fill="#ff0000" stroke="#a01414" stroke-width="1.3"/>
<line x1="1687.2" y1="1279.25" x2="1687.2" y2="1319.55" stroke="#a01414" stroke-width="1.3"/>
<text transform="translate(1719.6 1296.8) rotate(90) scale(1 1.04)" font-size="30" text-anchor="middle">**</text>
<line x1="1664.2" y1="1346" x2="1724.9" y2="1346" stroke="#808080" stroke-width="1.7"/>
<line x1="1664.2" y1="1339.8" x2="1664.2" y2="1352.2" stroke="#808080" stroke-width="1.7"/>
<line x1="1724.9" y1="1339.8" x2="1724.9" y2="1352.2" stroke="#808080" stroke-width="1.7"/>
<rect x="1670.85" y="1326.15" width="31.40" height="38.10" fill="#ff0000" stroke="#a01414" stroke-width="1.3"/>
<line x1="1685.5" y1="1326.15" x2="1685.5" y2="1364.25" stroke="#a01414" stroke-width="1.3"/>
<text transform="translate(1709.0 1344.7) rotate(90) scale(1 1.04)" font-size="30" text-anchor="middle">**</text>
<line x1="1593.9" y1="1391" x2="1664.2" y2="1391" stroke="#808080" stroke-width="1.7"/>
<line x1="1593.9" y1="1384.8" x2="1593.9" y2="1397.2" stroke="#808080" stroke-width="1.7"/>
<line x1="1664.2" y1="1384.8" x2="1664.2" y2="1397.2" stroke="#808080" stroke-width="1.7"/>
<rect x="1610.85" y="1370.85" width="49.80" height="40.30" fill="#00b0f0" stroke="#1f6a92" stroke-width="1.3"/>
<line x1="1645.9" y1="1370.8500000000001" x2="1645.9" y2="1411.1499999999999" stroke="#1f6a92" stroke-width="1.3"/>
<text transform="translate(1661.8 1395.8) scale(1 1.04)" font-size="31.5">NS</text>
<line x1="1609.2" y1="1437.7" x2="1662.2" y2="1437.7" stroke="#808080" stroke-width="1.7"/>
<line x1="1609.2" y1="1431.5" x2="1609.2" y2="1443.9" stroke="#808080" stroke-width="1.7"/>
<line x1="1662.2" y1="1431.5" x2="1662.2" y2="1443.9" stroke="#808080" stroke-width="1.7"/>
<rect x="1621.05" y="1416.25" width="32.60" height="41.50" fill="#00b0f0" stroke="#1f6a92" stroke-width="1.3"/>
<line x1="1630.5" y1="1416.25" x2="1630.5" y2="1457.75" stroke="#1f6a92" stroke-width="1.3"/>
<text transform="translate(1659.5 1443.1) scale(1 1.04)" font-size="31.5">NS</text>
<line x1="1649.8" y1="1482.9" x2="1716.2" y2="1482.9" stroke="#808080" stroke-width="1.7"/>
<line x1="1649.8" y1="1476.7" x2="1649.8" y2="1489.1000000000001" stroke="#808080" stroke-width="1.7"/>
<line x1="1716.2" y1="1476.7" x2="1716.2" y2="1489.1000000000001" stroke="#808080" stroke-width="1.7"/>
<rect x="1676.95" y="1462.85" width="27.20" height="41.50" fill="#ff0000" stroke="#a01414" stroke-width="1.3"/>
<line x1="1685.9" y1="1462.8500000000001" x2="1685.9" y2="1504.35" stroke="#a01414" stroke-width="1.3"/>
<text transform="translate(1704.4 1478.6) rotate(90) scale(1 1.04)" font-size="30" text-anchor="middle">**</text>
<line x1="1666.1" y1="1529.3" x2="1726.4" y2="1529.3" stroke="#808080" stroke-width="1.7"/>
<line x1="1666.1" y1="1523.1" x2="1666.1" y2="1535.5" stroke="#808080" stroke-width="1.7"/>
<line x1="1726.4" y1="1523.1" x2="1726.4" y2="1535.5" stroke="#808080" stroke-width="1.7"/>
<rect x="1681.15" y="1509.55" width="29.20" height="39.80" fill="#ff0000" stroke="#a01414" stroke-width="1.3"/>
<line x1="1699.9" y1="1509.5500000000002" x2="1699.9" y2="1549.35" stroke="#a01414" stroke-width="1.3"/>
<text transform="translate(1704.5 1534) rotate(90) scale(1 1.04)" font-size="30" text-anchor="middle">**</text>
<line x1="1658" y1="1574" x2="1716.5" y2="1574" stroke="#808080" stroke-width="1.7"/>
<line x1="1658" y1="1567.8" x2="1658" y2="1580.2" stroke="#808080" stroke-width="1.7"/>
<line x1="1716.5" y1="1567.8" x2="1716.5" y2="1580.2" stroke="#808080" stroke-width="1.7"/>
<rect x="1675.05" y="1554.65" width="28.30" height="39.80" fill="#ff0000" stroke="#a01414" stroke-width="1.3"/>
<line x1="1699.9" y1="1554.65" x2="1699.9" y2="1594.4499999999998" stroke="#a01414" stroke-width="1.3"/>
<text transform="translate(1704.5 1577.2) rotate(90) scale(1 1.04)" font-size="30" text-anchor="middle">**</text>
</g>
<g id="panel-e">
<text transform="translate(1181 569.5) scale(1 1.03)" font-size="46" font-weight="bold">e</text>
<rect x="1360.40" y="701.40" width="34.90" height="221.20" fill="#00b0f0"/>
<rect x="1404.60" y="729.60" width="35.40" height="193.00" fill="#ff0000"/>
<rect x="1493.10" y="701.40" width="35.80" height="221.20" fill="#00b0f0"/>
<rect x="1538.20" y="745.60" width="35.00" height="177.00" fill="#ff0000"/>
<rect x="1626.70" y="701.40" width="35.00" height="221.20" fill="#00b0f0"/>
<rect x="1671.00" y="712.80" width="35.30" height="209.80" fill="#ff0000"/>
<rect x="1759.90" y="701.40" width="35.40" height="221.20" fill="#00b0f0"/>
<rect x="1804.50" y="733.80" width="35.40" height="188.80" fill="#ff0000"/>
<rect x="1893.00" y="701.40" width="35.40" height="221.20" fill="#00b0f0"/>
<rect x="1937.70" y="789.90" width="35.40" height="132.70" fill="#ff0000"/>
<line x1="1377.85" y1="690.9" x2="1377.85" y2="711.5" stroke="#595959" stroke-width="2.9"/>
<line x1="1369.35" y1="690.9" x2="1386.35" y2="690.9" stroke="#595959" stroke-width="2.9"/>
<line x1="1369.35" y1="711.5" x2="1386.35" y2="711.5" stroke="#595959" stroke-width="2.9"/>
<line x1="1422.3" y1="708.6" x2="1422.3" y2="750.7" stroke="#595959" stroke-width="2.9"/>
<line x1="1413.8" y1="708.6" x2="1430.8" y2="708.6" stroke="#595959" stroke-width="2.9"/>
<line x1="1413.8" y1="750.7" x2="1430.8" y2="750.7" stroke="#595959" stroke-width="2.9"/>
<line x1="1511.0" y1="673.6" x2="1511.0" y2="729.6" stroke="#595959" stroke-width="2.9"/>
<line x1="1502.5" y1="673.6" x2="1519.5" y2="673.6" stroke="#595959" stroke-width="2.9"/>
<line x1="1502.5" y1="729.6" x2="1519.5" y2="729.6" stroke="#595959" stroke-width="2.9"/>
<line x1="1555.7" y1="717" x2="1555.7" y2="774.7" stroke="#595959" stroke-width="2.9"/>
<line x1="1547.2" y1="717" x2="1564.2" y2="717" stroke="#595959" stroke-width="2.9"/>
<line x1="1547.2" y1="774.7" x2="1564.2" y2="774.7" stroke="#595959" stroke-width="2.9"/>
<line x1="1644.2" y1="694.2" x2="1644.2" y2="708.6" stroke="#595959" stroke-width="2.9"/>
<line x1="1635.7" y1="694.2" x2="1652.7" y2="694.2" stroke="#595959" stroke-width="2.9"/>
<line x1="1635.7" y1="708.6" x2="1652.7" y2="708.6" stroke="#595959" stroke-width="2.9"/>
<line x1="1688.65" y1="695.9" x2="1688.65" y2="730.9" stroke="#595959" stroke-width="2.9"/>
<line x1="1680.15" y1="695.9" x2="1697.15" y2="695.9" stroke="#595959" stroke-width="2.9"/>
<line x1="1680.15" y1="730.9" x2="1697.15" y2="730.9" stroke="#595959" stroke-width="2.9"/>
<line x1="1777.6" y1="674.8" x2="1777.6" y2="728" stroke="#595959" stroke-width="2.9"/>
<line x1="1769.1" y1="674.8" x2="1786.1" y2="674.8" stroke="#595959" stroke-width="2.9"/>
<line x1="1769.1" y1="728" x2="1786.1" y2="728" stroke="#595959" stroke-width="2.9"/>
<line x1="1822.2" y1="694.7" x2="1822.2" y2="773" stroke="#595959" stroke-width="2.9"/>
<line x1="1813.7" y1="694.7" x2="1830.7" y2="694.7" stroke="#595959" stroke-width="2.9"/>
<line x1="1813.7" y1="773" x2="1830.7" y2="773" stroke="#595959" stroke-width="2.9"/>
<line x1="1910.7" y1="670.2" x2="1910.7" y2="732.6" stroke="#595959" stroke-width="2.9"/>
<line x1="1902.2" y1="670.2" x2="1919.2" y2="670.2" stroke="#595959" stroke-width="2.9"/>
<line x1="1902.2" y1="732.6" x2="1919.2" y2="732.6" stroke="#595959" stroke-width="2.9"/>
<line x1="1955.4" y1="772.6" x2="1955.4" y2="806.7" stroke="#595959" stroke-width="2.9"/>
<line x1="1946.9" y1="772.6" x2="1963.9" y2="772.6" stroke="#595959" stroke-width="2.9"/>
<line x1="1946.9" y1="806.7" x2="1963.9" y2="806.7" stroke="#595959" stroke-width="2.9"/>
<line x1="1332.9" y1="589.2" x2="1332.9" y2="924.0" stroke="#000" stroke-width="2.8"/>
<line x1="1323.5" y1="922.6" x2="1999.6" y2="922.6" stroke="#000" stroke-width="2.8"/>
<line x1="1323.5" y1="590.6" x2="1332.9" y2="590.6" stroke="#000" stroke-width="2.8"/>
<text transform="translate(1306.5 601.8000000000001) scale(1 1.04)" font-size="32" text-anchor="end">1.5</text>
<line x1="1323.5" y1="657.0" x2="1332.9" y2="657.0" stroke="#000" stroke-width="2.8"/>
<text transform="translate(1306.5 668.2) scale(1 1.04)" font-size="32" text-anchor="end">1.2</text>
<line x1="1323.5" y1="723.4000000000001" x2="1332.9" y2="723.4000000000001" stroke="#000" stroke-width="2.8"/>
<text transform="translate(1306.5 734.6000000000001) scale(1 1.04)" font-size="32" text-anchor="end">0.9</text>
<line x1="1323.5" y1="789.8000000000001" x2="1332.9" y2="789.8000000000001" stroke="#000" stroke-width="2.8"/>
<text transform="translate(1306.5 801.0000000000001) scale(1 1.04)" font-size="32" text-anchor="end">0.6</text>
<line x1="1323.5" y1="856.2" x2="1332.9" y2="856.2" stroke="#000" stroke-width="2.8"/>
<text transform="translate(1306.5 867.4000000000001) scale(1 1.04)" font-size="32" text-anchor="end">0.3</text>
<line x1="1323.5" y1="922.6" x2="1332.9" y2="922.6" stroke="#000" stroke-width="2.8"/>
<text transform="translate(1306.5 933.8000000000001) scale(1 1.04)" font-size="32" text-anchor="end">0</text>
<text transform="translate(1245.5 757.6) rotate(-90) scale(1 1.04)" font-size="31" text-anchor="middle">Relative expression</text>
<text transform="translate(1397.9 962.7) scale(1 1.04)" font-size="31" text-anchor="middle" font-style="italic">200</text>
<text transform="translate(1529.8 962.7) scale(1 1.04)" font-size="31" text-anchor="middle" font-style="italic">300</text>
<text transform="translate(1663.4 962.7) scale(1 1.04)" font-size="31" text-anchor="middle" font-style="italic">400</text>
<text transform="translate(1796 962.7) scale(1 1.04)" font-size="31" text-anchor="middle" font-style="italic">500</text>
<text transform="translate(1937.3 962.7) scale(1 1.04)" font-size="31" text-anchor="middle" font-style="italic">700</text>
<text transform="translate(1397.6 700.8) scale(1 1.04)" font-size="31">NS</text>
<text transform="translate(1530.4 706.8) scale(1 1.04)" font-size="31">NS</text>
<text transform="translate(1662 688.8) scale(1 1.04)" font-size="31">NS</text>
<text transform="translate(1792.5 688) scale(1 1.04)" font-size="31">NS</text>
<text transform="translate(1954 771.8) scale(1 1.04)" font-size="31" text-anchor="middle">**</text>
<rect x="1531.90" y="619.20" width="15.60" height="15.60" fill="#00b0f0"/>
<text transform="translate(1553 636.9) scale(1 1.04)" font-size="31">NIL-ZS97</text>
<rect x="1698.30" y="619.20" width="16.00" height="15.60" fill="#ff0000"/>
<text transform="translate(1720.3 636.9) scale(1 1.04)" font-size="31">NIL-NIP</text>
</g>
<g id="panel-f">
<text transform="translate(2 1749.3) scale(1 1.03)" font-size="46" font-weight="bold">f</text>
<text transform="translate(62.5 1830.4) scale(1 1.04)" font-size="32">NIP or ZH11</text>
<text transform="translate(63 1873.2) scale(1 1.04)" font-size="32">ZS97 or 9311</text>
<line x1="258.2" y1="1835.8" x2="929" y2="1835.8" stroke="#000" stroke-width="5.8"/>
<line x1="272.5" y1="1811.8" x2="272.5" y2="1853.6" stroke="#000" stroke-width="2.8"/>
<line x1="310.7" y1="1811.8" x2="310.7" y2="1853.6" stroke="#000" stroke-width="2.8"/>
<line x1="333.2" y1="1811.8" x2="333.2" y2="1853.6" stroke="#000" stroke-width="2.8"/>
<line x1="388.6" y1="1811.8" x2="388.6" y2="1853.6" stroke="#000" stroke-width="2.8"/>
<line x1="457.9" y1="1811.8" x2="457.9" y2="1853.6" stroke="#000" stroke-width="2.8"/>
<line x1="480.4" y1="1811.8" x2="480.4" y2="1853.6" stroke="#000" stroke-width="2.8"/>
<line x1="502.5" y1="1811.8" x2="502.5" y2="1853.6" stroke="#000" stroke-width="2.8"/>
<line x1="543.9" y1="1811.8" x2="543.9" y2="1853.6" stroke="#000" stroke-width="2.8"/>
<line x1="613.6" y1="1811.8" x2="613.6" y2="1853.6" stroke="#000" stroke-width="2.8"/>
<line x1="635.7" y1="1811.8" x2="635.7" y2="1853.6" stroke="#000" stroke-width="2.8"/>
<line x1="800" y1="1811.8" x2="800" y2="1853.6" stroke="#000" stroke-width="2.8"/>
<line x1="813.6" y1="1811.8" x2="813.6" y2="1853.6" stroke="#000" stroke-width="2.8"/>
<line x1="856" y1="1811.8" x2="856" y2="1853.6" stroke="#000" stroke-width="2.8"/>
<line x1="911.4" y1="1811.8" x2="911.4" y2="1853.6" stroke="#000" stroke-width="2.8"/>
<text transform="translate(390 1806.4) scale(1 1.04)" font-size="31" text-anchor="middle">A</text>
<text transform="translate(389.3 1883.2) scale(1 1.04)" font-size="31" text-anchor="middle">G</text>
<text transform="translate(395.4 1917) scale(1 1.04)" font-size="31" text-anchor="middle">-2458</text>
<path d="M573.6 1810.9 H576.4 L581.5 1854.8 H568.5 Z" fill="#3b6190" stroke="#3b6190" stroke-width="5" stroke-linejoin="round"/>
<line x1="575" y1="1846" x2="575" y2="1851.5" stroke="#5f95d2" stroke-width="1"/>
<path d="M718.2 1810.9 H721.0 L726.1 1854.8 H713.1 Z" fill="#3b6190" stroke="#3b6190" stroke-width="5" stroke-linejoin="round"/>
<line x1="719.6" y1="1846" x2="719.6" y2="1851.5" stroke="#5f95d2" stroke-width="1"/>
<path d="M882.8 1810.9 H895.8 L891.0999999999999 1854.8 H887.5 Z" fill="#3b6190" stroke="#3b6190" stroke-width="5" stroke-linejoin="round"/>
<line x1="889.3" y1="1815" x2="889.3" y2="1820.5" stroke="#5f95d2" stroke-width="1"/>
<line x1="1076" y1="1835.6" x2="1103" y2="1835.6" stroke="#000" stroke-width="2.2"/>
<line x1="1123" y1="1835.6" x2="1145" y2="1835.6" stroke="#000" stroke-width="2.2"/>
<line x1="1336" y1="1837" x2="1417" y2="1837" stroke="#000" stroke-width="2.2"/>
<line x1="1349.1" y1="1846.4" x2="1380.9" y2="1825.5" stroke="#000" stroke-width="2.5"/>
<line x1="1363.6" y1="1846.4" x2="1395.8" y2="1825.5" stroke="#000" stroke-width="2.5"/>
<rect x="929.50" y="1819.00" width="144.60" height="33.40" fill="#00b050" stroke="#000" stroke-width="4.4" stroke-linejoin="round"/>
<rect x="1104.20" y="1819.00" width="17.20" height="33.40" fill="#00b050" stroke="#000" stroke-width="4.4" stroke-linejoin="round"/>
<rect x="1146.40" y="1819.00" width="188.50" height="33.40" fill="#00b050" stroke="#000" stroke-width="4.4" stroke-linejoin="round"/>
<path d="M1418.3 1821.9 H1556.3 L1571.2 1838.6 L1556.3 1855.3 H1418.3 Z" fill="#00b050" stroke="#000" stroke-width="4.4" stroke-linejoin="round"/>
<line x1="945.3" y1="1811.8" x2="945.3" y2="1878.6" stroke="#000" stroke-width="4.2" stroke-dasharray="15 12.8"/>
<line x1="1047.3" y1="1811.8" x2="1047.3" y2="1878.6" stroke="#000" stroke-width="4.2" stroke-dasharray="15 12.8"/>
<line x1="1463.9" y1="1812" x2="1463.9" y2="1873.7" stroke="#000" stroke-width="4.2" stroke-dasharray="15 12.8"/>
<line x1="929.6" y1="1769.6" x2="929.6" y2="1818" stroke="#000" stroke-width="4.4"/>
<line x1="1574.5" y1="1791" x2="1574.5" y2="1840.3" stroke="#000" stroke-width="4.4"/>
<text transform="translate(951 1763.2) scale(1 1.04)" font-size="32.5" text-anchor="middle">ATG</text>
<text transform="translate(1595.5 1783.4) scale(1 1.04)" font-size="32.5" text-anchor="middle">TGA</text>
<text transform="translate(1586 1847.8) scale(1 1.04)" font-size="31.5" font-style="italic">Os11g0528700</text>
</g>
</svg>
</body>
</html>
